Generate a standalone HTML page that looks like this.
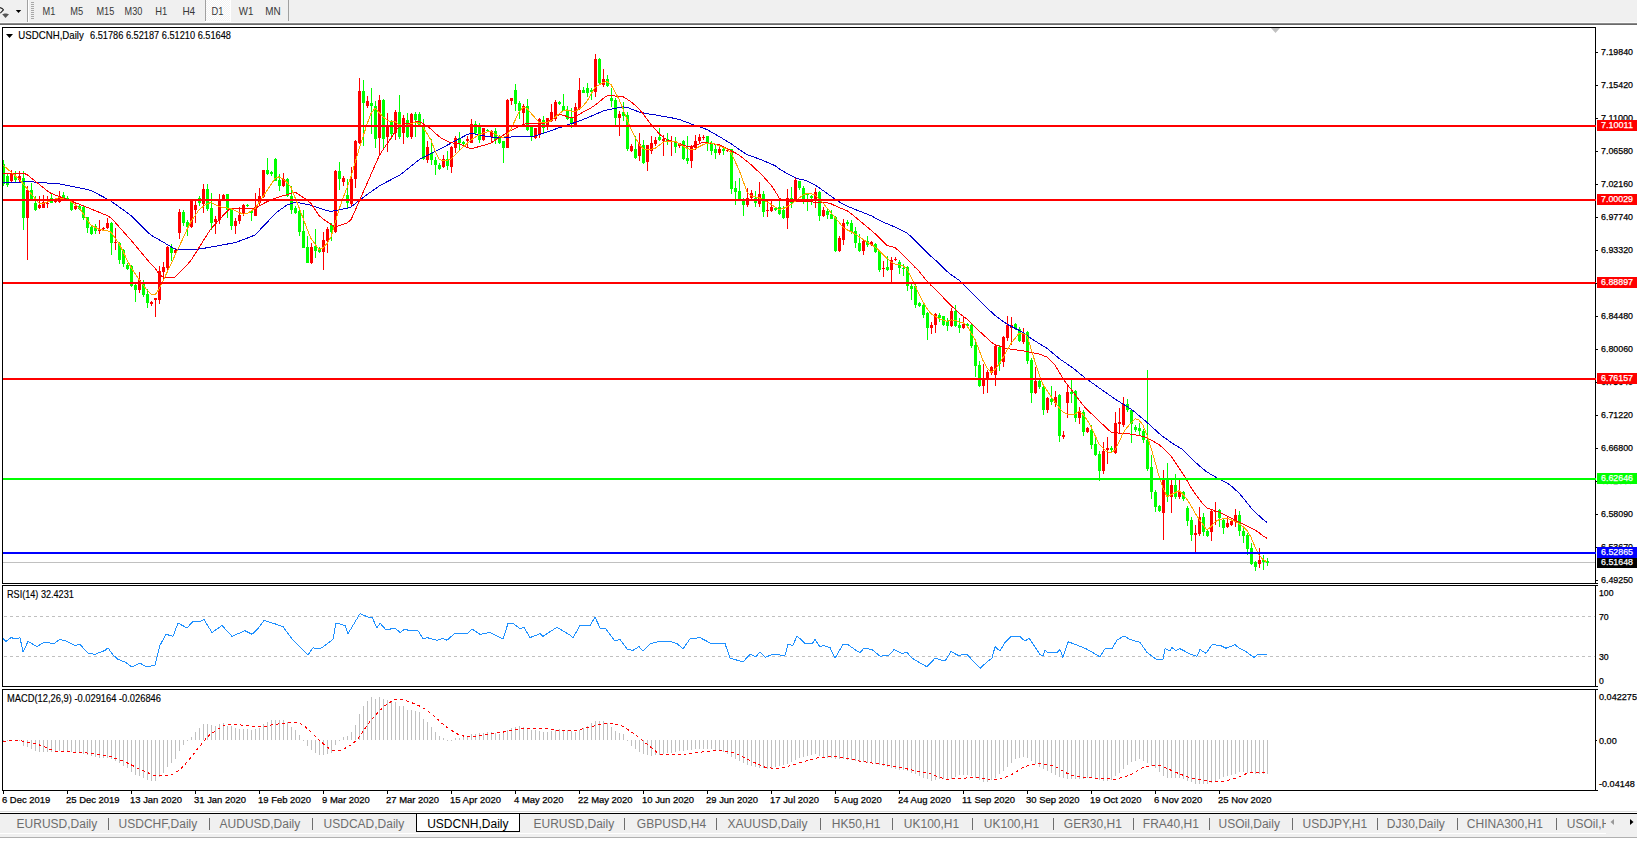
<!DOCTYPE html><html><head><meta charset="utf-8"><style>
html,body{margin:0;padding:0;width:1637px;height:842px;overflow:hidden;background:#fff;}
body{font-family:"Liberation Sans", sans-serif;position:relative;}
svg{position:absolute;left:0;top:0;}
</style></head><body>
<svg width="1637" height="842" viewBox="0 0 1637 842" shape-rendering="crispEdges">
<rect x="0" y="0" width="1637" height="23" fill="#f0f0f0"/>
<rect x="0" y="23" width="1637" height="1" fill="#8a8a8a"/>
<rect x="0" y="24" width="1637" height="1" fill="#6a6a6a"/>
<g shape-rendering="auto"><path d="M0,7.6 Q2.6,8.2 3.4,9.8 L0.3,13.2" stroke="#222" stroke-width="1.1" fill="none"/><path d="M2.2,14.3 L4.6,13.4 L6.3,13.4 L9,14.3 L5.5,18 Z" fill="#555"/><path d="M15.8,10 L21.2,10 L18.5,13 Z" fill="#000"/></g>
<rect x="27" y="0" width="1" height="23" fill="#a0a0a0"/>
<rect x="28" y="0" width="1" height="23" fill="#ffffff"/>
<rect x="31" y="2" width="3" height="1" fill="#a8a8a8"/>
<rect x="31" y="4" width="3" height="1" fill="#a8a8a8"/>
<rect x="31" y="6" width="3" height="1" fill="#a8a8a8"/>
<rect x="31" y="8" width="3" height="1" fill="#a8a8a8"/>
<rect x="31" y="10" width="3" height="1" fill="#a8a8a8"/>
<rect x="31" y="12" width="3" height="1" fill="#a8a8a8"/>
<rect x="31" y="14" width="3" height="1" fill="#a8a8a8"/>
<rect x="31" y="16" width="3" height="1" fill="#a8a8a8"/>
<rect x="31" y="18" width="3" height="1" fill="#a8a8a8"/>
<defs><pattern id="chk" x="0" y="0" width="2" height="2" patternUnits="userSpaceOnUse"><rect width="2" height="2" fill="#f2f2f2"/><rect width="1" height="1" fill="#ffffff"/><rect x="1" y="1" width="1" height="1" fill="#ffffff"/></pattern></defs>
<rect x="0" y="22" width="1637" height="1" fill="#fafafa"/>
<rect x="205" y="0" width="1" height="21" fill="#a0a0a0"/>
<rect x="206" y="0" width="24" height="21" fill="url(#chk)"/>
<rect x="230" y="0" width="1" height="22" fill="#ffffff"/>
<rect x="205" y="21" width="26" height="1" fill="#ffffff"/>
<rect x="288" y="0" width="1" height="21" fill="#a0a0a0"/>
<text x="42.6" y="15" font-family='"Liberation Sans", sans-serif' font-size="10.6" fill="#383838" textLength="12.8" lengthAdjust="spacingAndGlyphs">M1</text>
<text x="70.3" y="15" font-family='"Liberation Sans", sans-serif' font-size="10.6" fill="#383838" textLength="12.9" lengthAdjust="spacingAndGlyphs">M5</text>
<text x="96.5" y="15" font-family='"Liberation Sans", sans-serif' font-size="10.6" fill="#383838" textLength="17.8" lengthAdjust="spacingAndGlyphs">M15</text>
<text x="124.6" y="15" font-family='"Liberation Sans", sans-serif' font-size="10.6" fill="#383838" textLength="17.7" lengthAdjust="spacingAndGlyphs">M30</text>
<text x="155.3" y="15" font-family='"Liberation Sans", sans-serif' font-size="10.6" fill="#383838" textLength="12.0" lengthAdjust="spacingAndGlyphs">H1</text>
<text x="182.4" y="15" font-family='"Liberation Sans", sans-serif' font-size="10.6" fill="#383838" textLength="12.8" lengthAdjust="spacingAndGlyphs">H4</text>
<text x="211.5" y="15" font-family='"Liberation Sans", sans-serif' font-size="10.6" fill="#383838" textLength="11.9" lengthAdjust="spacingAndGlyphs">D1</text>
<text x="238.8" y="15" font-family='"Liberation Sans", sans-serif' font-size="10.6" fill="#383838" textLength="14.6" lengthAdjust="spacingAndGlyphs">W1</text>
<text x="265.3" y="15" font-family='"Liberation Sans", sans-serif' font-size="10.6" fill="#383838" textLength="15.4" lengthAdjust="spacingAndGlyphs">MN</text>
<rect x="2.5" y="27.5" width="1593" height="556" fill="none" stroke="#000" stroke-width="1"/>
<rect x="2.5" y="585.5" width="1593" height="101" fill="none" stroke="#000" stroke-width="1"/>
<rect x="2.5" y="689.5" width="1593" height="101" fill="none" stroke="#000" stroke-width="1"/>
<path d="M1271,28 L1280,28 L1275.5,33 Z" fill="#c0c0c0" shape-rendering="auto"/>
<defs><clipPath id="cm"><rect x="3" y="28" width="1592" height="555"/></clipPath>
<clipPath id="cr"><rect x="3" y="586" width="1592" height="100"/></clipPath>
<clipPath id="cd"><rect x="3" y="690" width="1592" height="100"/></clipPath></defs>
<g clip-path="url(#cm)">
<rect x="3" y="562" width="1592" height="1" fill="#c0c0c0"/>
<rect x="3" y="160" width="1" height="26" fill="#00ff00"/>
<rect x="2" y="164" width="3" height="20" fill="#00ff00"/>
<rect x="7" y="174" width="1" height="13" fill="#00ff00"/>
<rect x="6" y="176" width="3" height="9" fill="#00ff00"/>
<rect x="11" y="170" width="1" height="13" fill="#ff0000"/>
<rect x="10" y="174" width="3" height="7" fill="#ff0000"/>
<rect x="15" y="171" width="1" height="11" fill="#00ff00"/>
<rect x="14" y="176" width="3" height="4" fill="#00ff00"/>
<rect x="19" y="171" width="1" height="11" fill="#ff0000"/>
<rect x="18" y="176" width="3" height="4" fill="#ff0000"/>
<rect x="23" y="171" width="1" height="59" fill="#00ff00"/>
<rect x="22" y="178" width="3" height="40" fill="#00ff00"/>
<rect x="27" y="186" width="1" height="74" fill="#ff0000"/>
<rect x="26" y="190" width="3" height="28" fill="#ff0000"/>
<rect x="31" y="183" width="1" height="16" fill="#00ff00"/>
<rect x="30" y="190" width="3" height="9" fill="#00ff00"/>
<rect x="35" y="196" width="1" height="15" fill="#00ff00"/>
<rect x="34" y="203" width="3" height="7" fill="#00ff00"/>
<rect x="39" y="196" width="1" height="13" fill="#ff0000"/>
<rect x="38" y="205" width="3" height="3" fill="#ff0000"/>
<rect x="43" y="195" width="1" height="13" fill="#ff0000"/>
<rect x="42" y="202" width="3" height="6" fill="#ff0000"/>
<rect x="47" y="196" width="1" height="12" fill="#ff0000"/>
<rect x="46" y="203" width="3" height="1" fill="#ff0000"/>
<rect x="51" y="193" width="1" height="10" fill="#00ff00"/>
<rect x="50" y="198" width="3" height="5" fill="#00ff00"/>
<rect x="55" y="199" width="1" height="4" fill="#ff0000"/>
<rect x="54" y="201" width="3" height="1" fill="#ff0000"/>
<rect x="59" y="191" width="1" height="12" fill="#ff0000"/>
<rect x="58" y="196" width="3" height="6" fill="#ff0000"/>
<rect x="63" y="192" width="1" height="7" fill="#00ff00"/>
<rect x="62" y="195" width="3" height="3" fill="#00ff00"/>
<rect x="67" y="196" width="1" height="4" fill="#00ff00"/>
<rect x="66" y="198" width="3" height="1" fill="#00ff00"/>
<rect x="71" y="200" width="1" height="11" fill="#00ff00"/>
<rect x="70" y="201" width="3" height="9" fill="#00ff00"/>
<rect x="75" y="203" width="1" height="7" fill="#ff0000"/>
<rect x="74" y="206" width="3" height="3" fill="#ff0000"/>
<rect x="79" y="205" width="1" height="5" fill="#00ff00"/>
<rect x="78" y="206" width="3" height="3" fill="#00ff00"/>
<rect x="83" y="206" width="1" height="14" fill="#00ff00"/>
<rect x="82" y="207" width="3" height="11" fill="#00ff00"/>
<rect x="87" y="217" width="1" height="16" fill="#00ff00"/>
<rect x="86" y="217" width="3" height="11" fill="#00ff00"/>
<rect x="91" y="226" width="1" height="9" fill="#00ff00"/>
<rect x="90" y="227" width="3" height="7" fill="#00ff00"/>
<rect x="95" y="224" width="1" height="10" fill="#00ff00"/>
<rect x="94" y="226" width="3" height="5" fill="#00ff00"/>
<rect x="99" y="220" width="1" height="14" fill="#ff0000"/>
<rect x="98" y="229" width="3" height="2" fill="#ff0000"/>
<rect x="103" y="227" width="1" height="3" fill="#ff0000"/>
<rect x="102" y="228" width="3" height="1" fill="#ff0000"/>
<rect x="107" y="218" width="1" height="11" fill="#ff0000"/>
<rect x="106" y="223" width="3" height="5" fill="#ff0000"/>
<rect x="111" y="222" width="1" height="33" fill="#00ff00"/>
<rect x="110" y="223" width="3" height="20" fill="#00ff00"/>
<rect x="115" y="228" width="1" height="22" fill="#ff0000"/>
<rect x="114" y="242" width="3" height="1" fill="#ff0000"/>
<rect x="119" y="242" width="1" height="22" fill="#00ff00"/>
<rect x="118" y="243" width="3" height="17" fill="#00ff00"/>
<rect x="123" y="249" width="1" height="18" fill="#00ff00"/>
<rect x="122" y="250" width="3" height="14" fill="#00ff00"/>
<rect x="127" y="263" width="1" height="7" fill="#00ff00"/>
<rect x="126" y="265" width="3" height="4" fill="#00ff00"/>
<rect x="131" y="265" width="1" height="22" fill="#00ff00"/>
<rect x="130" y="266" width="3" height="20" fill="#00ff00"/>
<rect x="135" y="284" width="1" height="18" fill="#00ff00"/>
<rect x="134" y="285" width="3" height="5" fill="#00ff00"/>
<rect x="139" y="272" width="1" height="21" fill="#ff0000"/>
<rect x="138" y="280" width="3" height="10" fill="#ff0000"/>
<rect x="143" y="280" width="1" height="17" fill="#00ff00"/>
<rect x="142" y="284" width="3" height="11" fill="#00ff00"/>
<rect x="147" y="289" width="1" height="19" fill="#00ff00"/>
<rect x="146" y="294" width="3" height="9" fill="#00ff00"/>
<rect x="151" y="301" width="1" height="5" fill="#ff0000"/>
<rect x="150" y="302" width="3" height="2" fill="#ff0000"/>
<rect x="155" y="298" width="1" height="19" fill="#ff0000"/>
<rect x="154" y="298" width="3" height="2" fill="#ff0000"/>
<rect x="159" y="266" width="1" height="38" fill="#ff0000"/>
<rect x="158" y="271" width="3" height="29" fill="#ff0000"/>
<rect x="163" y="262" width="1" height="18" fill="#ff0000"/>
<rect x="162" y="267" width="3" height="5" fill="#ff0000"/>
<rect x="167" y="246" width="1" height="25" fill="#ff0000"/>
<rect x="166" y="247" width="3" height="21" fill="#ff0000"/>
<rect x="171" y="244" width="1" height="17" fill="#00ff00"/>
<rect x="170" y="247" width="3" height="6" fill="#00ff00"/>
<rect x="175" y="248" width="1" height="6" fill="#ff0000"/>
<rect x="174" y="250" width="3" height="3" fill="#ff0000"/>
<rect x="179" y="209" width="1" height="30" fill="#ff0000"/>
<rect x="178" y="212" width="3" height="21" fill="#ff0000"/>
<rect x="183" y="210" width="1" height="16" fill="#00ff00"/>
<rect x="182" y="212" width="3" height="11" fill="#00ff00"/>
<rect x="187" y="220" width="1" height="16" fill="#00ff00"/>
<rect x="186" y="222" width="3" height="5" fill="#00ff00"/>
<rect x="191" y="199" width="1" height="29" fill="#ff0000"/>
<rect x="190" y="200" width="3" height="27" fill="#ff0000"/>
<rect x="195" y="201" width="1" height="22" fill="#ff0000"/>
<rect x="194" y="205" width="3" height="5" fill="#ff0000"/>
<rect x="199" y="196" width="1" height="10" fill="#00ff00"/>
<rect x="198" y="198" width="3" height="5" fill="#00ff00"/>
<rect x="203" y="184" width="1" height="29" fill="#ff0000"/>
<rect x="202" y="189" width="3" height="15" fill="#ff0000"/>
<rect x="207" y="184" width="1" height="27" fill="#00ff00"/>
<rect x="206" y="189" width="3" height="20" fill="#00ff00"/>
<rect x="211" y="193" width="1" height="37" fill="#00ff00"/>
<rect x="210" y="208" width="3" height="15" fill="#00ff00"/>
<rect x="215" y="216" width="1" height="18" fill="#ff0000"/>
<rect x="214" y="219" width="3" height="3" fill="#ff0000"/>
<rect x="219" y="194" width="1" height="30" fill="#ff0000"/>
<rect x="218" y="199" width="3" height="21" fill="#ff0000"/>
<rect x="223" y="194" width="1" height="6" fill="#ff0000"/>
<rect x="222" y="195" width="3" height="4" fill="#ff0000"/>
<rect x="227" y="194" width="1" height="24" fill="#00ff00"/>
<rect x="226" y="194" width="3" height="16" fill="#00ff00"/>
<rect x="231" y="208" width="1" height="22" fill="#00ff00"/>
<rect x="230" y="209" width="3" height="17" fill="#00ff00"/>
<rect x="235" y="218" width="1" height="16" fill="#ff0000"/>
<rect x="234" y="221" width="3" height="5" fill="#ff0000"/>
<rect x="239" y="207" width="1" height="17" fill="#ff0000"/>
<rect x="238" y="215" width="3" height="6" fill="#ff0000"/>
<rect x="243" y="204" width="1" height="12" fill="#ff0000"/>
<rect x="242" y="205" width="3" height="9" fill="#ff0000"/>
<rect x="247" y="204" width="1" height="3" fill="#00ff00"/>
<rect x="246" y="205" width="3" height="1" fill="#00ff00"/>
<rect x="251" y="210" width="1" height="11" fill="#00ff00"/>
<rect x="250" y="211" width="3" height="2" fill="#00ff00"/>
<rect x="255" y="193" width="1" height="23" fill="#ff0000"/>
<rect x="254" y="207" width="3" height="9" fill="#ff0000"/>
<rect x="259" y="188" width="1" height="18" fill="#ff0000"/>
<rect x="258" y="196" width="3" height="7" fill="#ff0000"/>
<rect x="263" y="170" width="1" height="28" fill="#ff0000"/>
<rect x="262" y="170" width="3" height="27" fill="#ff0000"/>
<rect x="267" y="158" width="1" height="17" fill="#00ff00"/>
<rect x="266" y="170" width="3" height="4" fill="#00ff00"/>
<rect x="271" y="171" width="1" height="5" fill="#00ff00"/>
<rect x="270" y="172" width="3" height="2" fill="#00ff00"/>
<rect x="275" y="158" width="1" height="23" fill="#00ff00"/>
<rect x="274" y="159" width="3" height="22" fill="#00ff00"/>
<rect x="279" y="174" width="1" height="17" fill="#00ff00"/>
<rect x="278" y="180" width="3" height="6" fill="#00ff00"/>
<rect x="283" y="173" width="1" height="14" fill="#ff0000"/>
<rect x="282" y="179" width="3" height="7" fill="#ff0000"/>
<rect x="287" y="178" width="1" height="19" fill="#00ff00"/>
<rect x="286" y="179" width="3" height="17" fill="#00ff00"/>
<rect x="291" y="186" width="1" height="28" fill="#00ff00"/>
<rect x="290" y="196" width="3" height="14" fill="#00ff00"/>
<rect x="295" y="206" width="1" height="8" fill="#00ff00"/>
<rect x="294" y="208" width="3" height="5" fill="#00ff00"/>
<rect x="299" y="208" width="1" height="28" fill="#00ff00"/>
<rect x="298" y="211" width="3" height="21" fill="#00ff00"/>
<rect x="303" y="210" width="1" height="38" fill="#00ff00"/>
<rect x="302" y="231" width="3" height="17" fill="#00ff00"/>
<rect x="307" y="236" width="1" height="27" fill="#00ff00"/>
<rect x="306" y="247" width="3" height="16" fill="#00ff00"/>
<rect x="311" y="243" width="1" height="21" fill="#ff0000"/>
<rect x="310" y="247" width="3" height="16" fill="#ff0000"/>
<rect x="315" y="229" width="1" height="29" fill="#00ff00"/>
<rect x="314" y="246" width="3" height="5" fill="#00ff00"/>
<rect x="319" y="247" width="1" height="6" fill="#00ff00"/>
<rect x="318" y="249" width="3" height="3" fill="#00ff00"/>
<rect x="323" y="232" width="1" height="38" fill="#ff0000"/>
<rect x="322" y="240" width="3" height="12" fill="#ff0000"/>
<rect x="327" y="227" width="1" height="26" fill="#ff0000"/>
<rect x="326" y="229" width="3" height="12" fill="#ff0000"/>
<rect x="331" y="223" width="1" height="18" fill="#00ff00"/>
<rect x="330" y="225" width="3" height="7" fill="#00ff00"/>
<rect x="335" y="170" width="1" height="63" fill="#ff0000"/>
<rect x="334" y="171" width="3" height="61" fill="#ff0000"/>
<rect x="339" y="162" width="1" height="28" fill="#00ff00"/>
<rect x="338" y="171" width="3" height="8" fill="#00ff00"/>
<rect x="343" y="176" width="1" height="10" fill="#ff0000"/>
<rect x="342" y="178" width="3" height="4" fill="#ff0000"/>
<rect x="347" y="179" width="1" height="29" fill="#00ff00"/>
<rect x="346" y="195" width="3" height="8" fill="#00ff00"/>
<rect x="351" y="167" width="1" height="40" fill="#ff0000"/>
<rect x="350" y="179" width="3" height="25" fill="#ff0000"/>
<rect x="355" y="140" width="1" height="48" fill="#ff0000"/>
<rect x="354" y="141" width="3" height="38" fill="#ff0000"/>
<rect x="359" y="78" width="1" height="66" fill="#ff0000"/>
<rect x="358" y="91" width="3" height="52" fill="#ff0000"/>
<rect x="363" y="80" width="1" height="66" fill="#00ff00"/>
<rect x="362" y="91" width="3" height="12" fill="#00ff00"/>
<rect x="367" y="96" width="1" height="12" fill="#ff0000"/>
<rect x="366" y="101" width="3" height="5" fill="#ff0000"/>
<rect x="371" y="88" width="1" height="46" fill="#00ff00"/>
<rect x="370" y="103" width="3" height="3" fill="#00ff00"/>
<rect x="375" y="101" width="1" height="47" fill="#00ff00"/>
<rect x="374" y="106" width="3" height="33" fill="#00ff00"/>
<rect x="379" y="95" width="1" height="61" fill="#ff0000"/>
<rect x="378" y="100" width="3" height="38" fill="#ff0000"/>
<rect x="383" y="99" width="1" height="49" fill="#00ff00"/>
<rect x="382" y="100" width="3" height="39" fill="#00ff00"/>
<rect x="387" y="113" width="1" height="39" fill="#ff0000"/>
<rect x="386" y="125" width="3" height="12" fill="#ff0000"/>
<rect x="391" y="120" width="1" height="19" fill="#00ff00"/>
<rect x="390" y="121" width="3" height="13" fill="#00ff00"/>
<rect x="395" y="110" width="1" height="30" fill="#ff0000"/>
<rect x="394" y="112" width="3" height="21" fill="#ff0000"/>
<rect x="399" y="95" width="1" height="44" fill="#00ff00"/>
<rect x="398" y="112" width="3" height="25" fill="#00ff00"/>
<rect x="403" y="115" width="1" height="29" fill="#ff0000"/>
<rect x="402" y="118" width="3" height="15" fill="#ff0000"/>
<rect x="407" y="113" width="1" height="25" fill="#00ff00"/>
<rect x="406" y="120" width="3" height="17" fill="#00ff00"/>
<rect x="411" y="113" width="1" height="26" fill="#ff0000"/>
<rect x="410" y="114" width="3" height="23" fill="#ff0000"/>
<rect x="415" y="112" width="1" height="25" fill="#00ff00"/>
<rect x="414" y="114" width="3" height="6" fill="#00ff00"/>
<rect x="419" y="112" width="1" height="15" fill="#00ff00"/>
<rect x="418" y="114" width="3" height="11" fill="#00ff00"/>
<rect x="423" y="119" width="1" height="41" fill="#00ff00"/>
<rect x="422" y="125" width="3" height="34" fill="#00ff00"/>
<rect x="427" y="141" width="1" height="22" fill="#ff0000"/>
<rect x="426" y="147" width="3" height="13" fill="#ff0000"/>
<rect x="431" y="139" width="1" height="26" fill="#00ff00"/>
<rect x="430" y="153" width="3" height="7" fill="#00ff00"/>
<rect x="435" y="157" width="1" height="18" fill="#00ff00"/>
<rect x="434" y="160" width="3" height="5" fill="#00ff00"/>
<rect x="439" y="163" width="1" height="7" fill="#00ff00"/>
<rect x="438" y="165" width="3" height="4" fill="#00ff00"/>
<rect x="443" y="155" width="1" height="13" fill="#ff0000"/>
<rect x="442" y="159" width="3" height="8" fill="#ff0000"/>
<rect x="447" y="151" width="1" height="19" fill="#00ff00"/>
<rect x="446" y="159" width="3" height="7" fill="#00ff00"/>
<rect x="451" y="146" width="1" height="27" fill="#ff0000"/>
<rect x="450" y="147" width="3" height="20" fill="#ff0000"/>
<rect x="455" y="136" width="1" height="17" fill="#ff0000"/>
<rect x="454" y="138" width="3" height="10" fill="#ff0000"/>
<rect x="459" y="132" width="1" height="19" fill="#00ff00"/>
<rect x="458" y="138" width="3" height="5" fill="#00ff00"/>
<rect x="463" y="141" width="1" height="4" fill="#00ff00"/>
<rect x="462" y="142" width="3" height="2" fill="#00ff00"/>
<rect x="467" y="136" width="1" height="11" fill="#ff0000"/>
<rect x="466" y="139" width="3" height="2" fill="#ff0000"/>
<rect x="471" y="119" width="1" height="24" fill="#ff0000"/>
<rect x="470" y="124" width="3" height="19" fill="#ff0000"/>
<rect x="475" y="121" width="1" height="13" fill="#00ff00"/>
<rect x="474" y="124" width="3" height="9" fill="#00ff00"/>
<rect x="479" y="123" width="1" height="20" fill="#00ff00"/>
<rect x="478" y="127" width="3" height="13" fill="#00ff00"/>
<rect x="483" y="128" width="1" height="13" fill="#ff0000"/>
<rect x="482" y="128" width="3" height="12" fill="#ff0000"/>
<rect x="487" y="129" width="1" height="3" fill="#00ff00"/>
<rect x="486" y="130" width="3" height="1" fill="#00ff00"/>
<rect x="491" y="130" width="1" height="13" fill="#ff0000"/>
<rect x="490" y="131" width="3" height="6" fill="#ff0000"/>
<rect x="495" y="128" width="1" height="16" fill="#00ff00"/>
<rect x="494" y="131" width="3" height="9" fill="#00ff00"/>
<rect x="499" y="135" width="1" height="9" fill="#00ff00"/>
<rect x="498" y="138" width="3" height="5" fill="#00ff00"/>
<rect x="503" y="141" width="1" height="22" fill="#00ff00"/>
<rect x="502" y="141" width="3" height="7" fill="#00ff00"/>
<rect x="507" y="99" width="1" height="49" fill="#ff0000"/>
<rect x="506" y="100" width="3" height="48" fill="#ff0000"/>
<rect x="511" y="98" width="1" height="7" fill="#ff0000"/>
<rect x="510" y="98" width="3" height="3" fill="#ff0000"/>
<rect x="515" y="84" width="1" height="27" fill="#00ff00"/>
<rect x="514" y="90" width="3" height="14" fill="#00ff00"/>
<rect x="519" y="101" width="1" height="18" fill="#00ff00"/>
<rect x="518" y="103" width="3" height="8" fill="#00ff00"/>
<rect x="523" y="104" width="1" height="20" fill="#ff0000"/>
<rect x="522" y="106" width="3" height="7" fill="#ff0000"/>
<rect x="527" y="99" width="1" height="32" fill="#00ff00"/>
<rect x="526" y="106" width="3" height="24" fill="#00ff00"/>
<rect x="531" y="126" width="1" height="15" fill="#00ff00"/>
<rect x="530" y="127" width="3" height="10" fill="#00ff00"/>
<rect x="535" y="128" width="1" height="11" fill="#ff0000"/>
<rect x="534" y="128" width="3" height="10" fill="#ff0000"/>
<rect x="539" y="118" width="1" height="20" fill="#ff0000"/>
<rect x="538" y="119" width="3" height="15" fill="#ff0000"/>
<rect x="543" y="116" width="1" height="18" fill="#00ff00"/>
<rect x="542" y="120" width="3" height="8" fill="#00ff00"/>
<rect x="547" y="118" width="1" height="12" fill="#ff0000"/>
<rect x="546" y="118" width="3" height="8" fill="#ff0000"/>
<rect x="551" y="104" width="1" height="18" fill="#ff0000"/>
<rect x="550" y="112" width="3" height="9" fill="#ff0000"/>
<rect x="555" y="100" width="1" height="21" fill="#ff0000"/>
<rect x="554" y="102" width="3" height="17" fill="#ff0000"/>
<rect x="559" y="101" width="1" height="4" fill="#00ff00"/>
<rect x="558" y="102" width="3" height="2" fill="#00ff00"/>
<rect x="563" y="94" width="1" height="17" fill="#00ff00"/>
<rect x="562" y="106" width="3" height="5" fill="#00ff00"/>
<rect x="567" y="106" width="1" height="14" fill="#00ff00"/>
<rect x="566" y="111" width="3" height="8" fill="#00ff00"/>
<rect x="571" y="108" width="1" height="20" fill="#00ff00"/>
<rect x="570" y="118" width="3" height="6" fill="#00ff00"/>
<rect x="575" y="103" width="1" height="24" fill="#ff0000"/>
<rect x="574" y="107" width="3" height="20" fill="#ff0000"/>
<rect x="579" y="78" width="1" height="32" fill="#ff0000"/>
<rect x="578" y="90" width="3" height="19" fill="#ff0000"/>
<rect x="583" y="87" width="1" height="6" fill="#00ff00"/>
<rect x="582" y="90" width="3" height="3" fill="#00ff00"/>
<rect x="587" y="83" width="1" height="14" fill="#00ff00"/>
<rect x="586" y="88" width="3" height="5" fill="#00ff00"/>
<rect x="591" y="88" width="1" height="12" fill="#00ff00"/>
<rect x="590" y="90" width="3" height="2" fill="#00ff00"/>
<rect x="595" y="54" width="1" height="43" fill="#ff0000"/>
<rect x="594" y="59" width="3" height="33" fill="#ff0000"/>
<rect x="599" y="58" width="1" height="26" fill="#00ff00"/>
<rect x="598" y="59" width="3" height="24" fill="#00ff00"/>
<rect x="603" y="69" width="1" height="18" fill="#ff0000"/>
<rect x="602" y="79" width="3" height="6" fill="#ff0000"/>
<rect x="607" y="75" width="1" height="12" fill="#00ff00"/>
<rect x="606" y="79" width="3" height="7" fill="#00ff00"/>
<rect x="611" y="88" width="1" height="19" fill="#00ff00"/>
<rect x="610" y="98" width="3" height="3" fill="#00ff00"/>
<rect x="615" y="98" width="1" height="27" fill="#00ff00"/>
<rect x="614" y="100" width="3" height="18" fill="#00ff00"/>
<rect x="619" y="111" width="1" height="25" fill="#ff0000"/>
<rect x="618" y="114" width="3" height="4" fill="#ff0000"/>
<rect x="623" y="102" width="1" height="19" fill="#00ff00"/>
<rect x="622" y="112" width="3" height="4" fill="#00ff00"/>
<rect x="627" y="112" width="1" height="39" fill="#00ff00"/>
<rect x="626" y="115" width="3" height="34" fill="#00ff00"/>
<rect x="631" y="144" width="1" height="8" fill="#ff0000"/>
<rect x="630" y="146" width="3" height="5" fill="#ff0000"/>
<rect x="635" y="136" width="1" height="23" fill="#00ff00"/>
<rect x="634" y="149" width="3" height="9" fill="#00ff00"/>
<rect x="639" y="133" width="1" height="28" fill="#ff0000"/>
<rect x="638" y="144" width="3" height="12" fill="#ff0000"/>
<rect x="643" y="140" width="1" height="24" fill="#00ff00"/>
<rect x="642" y="145" width="3" height="18" fill="#00ff00"/>
<rect x="647" y="145" width="1" height="26" fill="#ff0000"/>
<rect x="646" y="145" width="3" height="17" fill="#ff0000"/>
<rect x="651" y="136" width="1" height="18" fill="#ff0000"/>
<rect x="650" y="143" width="3" height="8" fill="#ff0000"/>
<rect x="655" y="137" width="1" height="9" fill="#ff0000"/>
<rect x="654" y="140" width="3" height="4" fill="#ff0000"/>
<rect x="659" y="128" width="1" height="13" fill="#00ff00"/>
<rect x="658" y="137" width="3" height="3" fill="#00ff00"/>
<rect x="663" y="135" width="1" height="21" fill="#ff0000"/>
<rect x="662" y="139" width="3" height="2" fill="#ff0000"/>
<rect x="667" y="133" width="1" height="12" fill="#00ff00"/>
<rect x="666" y="139" width="3" height="3" fill="#00ff00"/>
<rect x="671" y="136" width="1" height="20" fill="#ff0000"/>
<rect x="670" y="141" width="3" height="1" fill="#ff0000"/>
<rect x="675" y="137" width="1" height="16" fill="#00ff00"/>
<rect x="674" y="142" width="3" height="5" fill="#00ff00"/>
<rect x="679" y="144" width="1" height="4" fill="#ff0000"/>
<rect x="678" y="144" width="3" height="2" fill="#ff0000"/>
<rect x="683" y="140" width="1" height="20" fill="#00ff00"/>
<rect x="682" y="141" width="3" height="18" fill="#00ff00"/>
<rect x="687" y="136" width="1" height="28" fill="#00ff00"/>
<rect x="686" y="158" width="3" height="3" fill="#00ff00"/>
<rect x="691" y="145" width="1" height="23" fill="#ff0000"/>
<rect x="690" y="146" width="3" height="15" fill="#ff0000"/>
<rect x="695" y="135" width="1" height="15" fill="#ff0000"/>
<rect x="694" y="141" width="3" height="7" fill="#ff0000"/>
<rect x="699" y="134" width="1" height="10" fill="#ff0000"/>
<rect x="698" y="137" width="3" height="4" fill="#ff0000"/>
<rect x="703" y="135" width="1" height="5" fill="#ff0000"/>
<rect x="702" y="137" width="3" height="1" fill="#ff0000"/>
<rect x="707" y="136" width="1" height="15" fill="#00ff00"/>
<rect x="706" y="136" width="3" height="8" fill="#00ff00"/>
<rect x="711" y="141" width="1" height="14" fill="#00ff00"/>
<rect x="710" y="144" width="3" height="7" fill="#00ff00"/>
<rect x="715" y="144" width="1" height="15" fill="#00ff00"/>
<rect x="714" y="149" width="3" height="4" fill="#00ff00"/>
<rect x="719" y="146" width="1" height="9" fill="#ff0000"/>
<rect x="718" y="149" width="3" height="4" fill="#ff0000"/>
<rect x="723" y="148" width="1" height="7" fill="#00ff00"/>
<rect x="722" y="149" width="3" height="2" fill="#00ff00"/>
<rect x="727" y="149" width="1" height="3" fill="#ff0000"/>
<rect x="726" y="150" width="3" height="1" fill="#ff0000"/>
<rect x="731" y="149" width="1" height="45" fill="#00ff00"/>
<rect x="730" y="149" width="3" height="40" fill="#00ff00"/>
<rect x="735" y="181" width="1" height="24" fill="#00ff00"/>
<rect x="734" y="188" width="3" height="4" fill="#00ff00"/>
<rect x="739" y="178" width="1" height="22" fill="#00ff00"/>
<rect x="738" y="191" width="3" height="8" fill="#00ff00"/>
<rect x="743" y="198" width="1" height="18" fill="#00ff00"/>
<rect x="742" y="201" width="3" height="4" fill="#00ff00"/>
<rect x="747" y="188" width="1" height="19" fill="#ff0000"/>
<rect x="746" y="198" width="3" height="7" fill="#ff0000"/>
<rect x="751" y="190" width="1" height="9" fill="#ff0000"/>
<rect x="750" y="193" width="3" height="5" fill="#ff0000"/>
<rect x="755" y="191" width="1" height="16" fill="#00ff00"/>
<rect x="754" y="198" width="3" height="5" fill="#00ff00"/>
<rect x="759" y="182" width="1" height="25" fill="#ff0000"/>
<rect x="758" y="194" width="3" height="10" fill="#ff0000"/>
<rect x="763" y="191" width="1" height="26" fill="#00ff00"/>
<rect x="762" y="194" width="3" height="18" fill="#00ff00"/>
<rect x="767" y="201" width="1" height="16" fill="#ff0000"/>
<rect x="766" y="210" width="3" height="1" fill="#ff0000"/>
<rect x="771" y="201" width="1" height="11" fill="#ff0000"/>
<rect x="770" y="207" width="3" height="4" fill="#ff0000"/>
<rect x="775" y="207" width="1" height="4" fill="#00ff00"/>
<rect x="774" y="208" width="3" height="2" fill="#00ff00"/>
<rect x="779" y="201" width="1" height="14" fill="#00ff00"/>
<rect x="778" y="207" width="3" height="7" fill="#00ff00"/>
<rect x="783" y="206" width="1" height="13" fill="#00ff00"/>
<rect x="782" y="210" width="3" height="8" fill="#00ff00"/>
<rect x="787" y="189" width="1" height="40" fill="#ff0000"/>
<rect x="786" y="198" width="3" height="20" fill="#ff0000"/>
<rect x="791" y="187" width="1" height="21" fill="#00ff00"/>
<rect x="790" y="198" width="3" height="5" fill="#00ff00"/>
<rect x="795" y="178" width="1" height="23" fill="#ff0000"/>
<rect x="794" y="180" width="3" height="21" fill="#ff0000"/>
<rect x="799" y="181" width="1" height="9" fill="#00ff00"/>
<rect x="798" y="181" width="3" height="7" fill="#00ff00"/>
<rect x="803" y="186" width="1" height="18" fill="#00ff00"/>
<rect x="802" y="188" width="3" height="11" fill="#00ff00"/>
<rect x="807" y="193" width="1" height="18" fill="#00ff00"/>
<rect x="806" y="193" width="3" height="2" fill="#00ff00"/>
<rect x="811" y="195" width="1" height="10" fill="#00ff00"/>
<rect x="810" y="196" width="3" height="2" fill="#00ff00"/>
<rect x="815" y="188" width="1" height="20" fill="#ff0000"/>
<rect x="814" y="192" width="3" height="8" fill="#ff0000"/>
<rect x="819" y="191" width="1" height="30" fill="#00ff00"/>
<rect x="818" y="192" width="3" height="24" fill="#00ff00"/>
<rect x="823" y="207" width="1" height="10" fill="#ff0000"/>
<rect x="822" y="210" width="3" height="6" fill="#ff0000"/>
<rect x="827" y="208" width="1" height="11" fill="#00ff00"/>
<rect x="826" y="211" width="3" height="4" fill="#00ff00"/>
<rect x="831" y="210" width="1" height="9" fill="#00ff00"/>
<rect x="830" y="214" width="3" height="5" fill="#00ff00"/>
<rect x="835" y="216" width="1" height="36" fill="#00ff00"/>
<rect x="834" y="217" width="3" height="34" fill="#00ff00"/>
<rect x="839" y="236" width="1" height="16" fill="#ff0000"/>
<rect x="838" y="238" width="3" height="13" fill="#ff0000"/>
<rect x="843" y="219" width="1" height="26" fill="#ff0000"/>
<rect x="842" y="223" width="3" height="17" fill="#ff0000"/>
<rect x="847" y="220" width="1" height="6" fill="#00ff00"/>
<rect x="846" y="222" width="3" height="2" fill="#00ff00"/>
<rect x="851" y="220" width="1" height="14" fill="#00ff00"/>
<rect x="850" y="223" width="3" height="9" fill="#00ff00"/>
<rect x="855" y="227" width="1" height="21" fill="#00ff00"/>
<rect x="854" y="231" width="3" height="12" fill="#00ff00"/>
<rect x="859" y="234" width="1" height="18" fill="#00ff00"/>
<rect x="858" y="243" width="3" height="8" fill="#00ff00"/>
<rect x="863" y="240" width="1" height="15" fill="#ff0000"/>
<rect x="862" y="241" width="3" height="10" fill="#ff0000"/>
<rect x="867" y="236" width="1" height="11" fill="#00ff00"/>
<rect x="866" y="241" width="3" height="4" fill="#00ff00"/>
<rect x="871" y="241" width="1" height="5" fill="#ff0000"/>
<rect x="870" y="242" width="3" height="3" fill="#ff0000"/>
<rect x="875" y="243" width="1" height="10" fill="#00ff00"/>
<rect x="874" y="244" width="3" height="8" fill="#00ff00"/>
<rect x="879" y="251" width="1" height="21" fill="#00ff00"/>
<rect x="878" y="251" width="3" height="19" fill="#00ff00"/>
<rect x="883" y="261" width="1" height="16" fill="#ff0000"/>
<rect x="882" y="268" width="3" height="1" fill="#ff0000"/>
<rect x="887" y="256" width="1" height="15" fill="#00ff00"/>
<rect x="886" y="267" width="3" height="3" fill="#00ff00"/>
<rect x="891" y="257" width="1" height="25" fill="#ff0000"/>
<rect x="890" y="260" width="3" height="10" fill="#ff0000"/>
<rect x="895" y="257" width="1" height="4" fill="#ff0000"/>
<rect x="894" y="259" width="3" height="1" fill="#ff0000"/>
<rect x="899" y="260" width="1" height="14" fill="#00ff00"/>
<rect x="898" y="262" width="3" height="6" fill="#00ff00"/>
<rect x="903" y="264" width="1" height="12" fill="#00ff00"/>
<rect x="902" y="268" width="3" height="1" fill="#00ff00"/>
<rect x="907" y="266" width="1" height="25" fill="#00ff00"/>
<rect x="906" y="267" width="3" height="19" fill="#00ff00"/>
<rect x="911" y="284" width="1" height="16" fill="#00ff00"/>
<rect x="910" y="286" width="3" height="3" fill="#00ff00"/>
<rect x="915" y="283" width="1" height="25" fill="#00ff00"/>
<rect x="914" y="286" width="3" height="19" fill="#00ff00"/>
<rect x="919" y="302" width="1" height="5" fill="#00ff00"/>
<rect x="918" y="303" width="3" height="3" fill="#00ff00"/>
<rect x="923" y="304" width="1" height="14" fill="#00ff00"/>
<rect x="922" y="305" width="3" height="10" fill="#00ff00"/>
<rect x="927" y="312" width="1" height="28" fill="#00ff00"/>
<rect x="926" y="313" width="3" height="15" fill="#00ff00"/>
<rect x="931" y="322" width="1" height="12" fill="#ff0000"/>
<rect x="930" y="325" width="3" height="3" fill="#ff0000"/>
<rect x="935" y="313" width="1" height="20" fill="#ff0000"/>
<rect x="934" y="314" width="3" height="11" fill="#ff0000"/>
<rect x="939" y="313" width="1" height="9" fill="#00ff00"/>
<rect x="938" y="315" width="3" height="3" fill="#00ff00"/>
<rect x="943" y="316" width="1" height="10" fill="#00ff00"/>
<rect x="942" y="316" width="3" height="9" fill="#00ff00"/>
<rect x="947" y="318" width="1" height="13" fill="#00ff00"/>
<rect x="946" y="321" width="3" height="5" fill="#00ff00"/>
<rect x="951" y="308" width="1" height="19" fill="#ff0000"/>
<rect x="950" y="311" width="3" height="15" fill="#ff0000"/>
<rect x="955" y="305" width="1" height="22" fill="#00ff00"/>
<rect x="954" y="311" width="3" height="15" fill="#00ff00"/>
<rect x="959" y="318" width="1" height="15" fill="#00ff00"/>
<rect x="958" y="325" width="3" height="3" fill="#00ff00"/>
<rect x="963" y="316" width="1" height="13" fill="#ff0000"/>
<rect x="962" y="324" width="3" height="4" fill="#ff0000"/>
<rect x="967" y="323" width="1" height="4" fill="#00ff00"/>
<rect x="966" y="324" width="3" height="2" fill="#00ff00"/>
<rect x="971" y="324" width="1" height="24" fill="#00ff00"/>
<rect x="970" y="325" width="3" height="21" fill="#00ff00"/>
<rect x="975" y="341" width="1" height="36" fill="#00ff00"/>
<rect x="974" y="345" width="3" height="21" fill="#00ff00"/>
<rect x="979" y="361" width="1" height="26" fill="#00ff00"/>
<rect x="978" y="365" width="3" height="21" fill="#00ff00"/>
<rect x="983" y="364" width="1" height="30" fill="#ff0000"/>
<rect x="982" y="379" width="3" height="7" fill="#ff0000"/>
<rect x="987" y="370" width="1" height="23" fill="#ff0000"/>
<rect x="986" y="372" width="3" height="6" fill="#ff0000"/>
<rect x="991" y="366" width="1" height="9" fill="#ff0000"/>
<rect x="990" y="367" width="3" height="6" fill="#ff0000"/>
<rect x="995" y="345" width="1" height="41" fill="#ff0000"/>
<rect x="994" y="346" width="3" height="29" fill="#ff0000"/>
<rect x="999" y="345" width="1" height="26" fill="#00ff00"/>
<rect x="998" y="347" width="3" height="17" fill="#00ff00"/>
<rect x="1003" y="336" width="1" height="31" fill="#ff0000"/>
<rect x="1002" y="337" width="3" height="25" fill="#ff0000"/>
<rect x="1007" y="316" width="1" height="25" fill="#ff0000"/>
<rect x="1006" y="325" width="3" height="13" fill="#ff0000"/>
<rect x="1011" y="317" width="1" height="28" fill="#ff0000"/>
<rect x="1010" y="325" width="3" height="3" fill="#ff0000"/>
<rect x="1015" y="323" width="1" height="7" fill="#00ff00"/>
<rect x="1014" y="324" width="3" height="5" fill="#00ff00"/>
<rect x="1019" y="327" width="1" height="15" fill="#00ff00"/>
<rect x="1018" y="329" width="3" height="12" fill="#00ff00"/>
<rect x="1023" y="328" width="1" height="16" fill="#ff0000"/>
<rect x="1022" y="333" width="3" height="9" fill="#ff0000"/>
<rect x="1027" y="331" width="1" height="33" fill="#00ff00"/>
<rect x="1026" y="332" width="3" height="29" fill="#00ff00"/>
<rect x="1031" y="358" width="1" height="45" fill="#00ff00"/>
<rect x="1030" y="360" width="3" height="33" fill="#00ff00"/>
<rect x="1035" y="367" width="1" height="27" fill="#ff0000"/>
<rect x="1034" y="381" width="3" height="12" fill="#ff0000"/>
<rect x="1039" y="380" width="1" height="9" fill="#00ff00"/>
<rect x="1038" y="381" width="3" height="6" fill="#00ff00"/>
<rect x="1043" y="384" width="1" height="31" fill="#00ff00"/>
<rect x="1042" y="387" width="3" height="23" fill="#00ff00"/>
<rect x="1047" y="397" width="1" height="16" fill="#ff0000"/>
<rect x="1046" y="398" width="3" height="12" fill="#ff0000"/>
<rect x="1051" y="386" width="1" height="19" fill="#00ff00"/>
<rect x="1050" y="399" width="3" height="3" fill="#00ff00"/>
<rect x="1055" y="391" width="1" height="16" fill="#ff0000"/>
<rect x="1054" y="397" width="3" height="6" fill="#ff0000"/>
<rect x="1059" y="394" width="1" height="48" fill="#00ff00"/>
<rect x="1058" y="395" width="3" height="41" fill="#00ff00"/>
<rect x="1063" y="431" width="1" height="8" fill="#ff0000"/>
<rect x="1062" y="435" width="3" height="2" fill="#ff0000"/>
<rect x="1067" y="384" width="1" height="34" fill="#ff0000"/>
<rect x="1066" y="392" width="3" height="11" fill="#ff0000"/>
<rect x="1071" y="378" width="1" height="25" fill="#00ff00"/>
<rect x="1070" y="392" width="3" height="2" fill="#00ff00"/>
<rect x="1075" y="390" width="1" height="32" fill="#00ff00"/>
<rect x="1074" y="391" width="3" height="27" fill="#00ff00"/>
<rect x="1079" y="407" width="1" height="17" fill="#ff0000"/>
<rect x="1078" y="411" width="3" height="7" fill="#ff0000"/>
<rect x="1083" y="410" width="1" height="26" fill="#00ff00"/>
<rect x="1082" y="412" width="3" height="20" fill="#00ff00"/>
<rect x="1087" y="427" width="1" height="6" fill="#ff0000"/>
<rect x="1086" y="428" width="3" height="4" fill="#ff0000"/>
<rect x="1091" y="425" width="1" height="24" fill="#00ff00"/>
<rect x="1090" y="430" width="3" height="15" fill="#00ff00"/>
<rect x="1095" y="437" width="1" height="19" fill="#00ff00"/>
<rect x="1094" y="444" width="3" height="11" fill="#00ff00"/>
<rect x="1099" y="451" width="1" height="30" fill="#00ff00"/>
<rect x="1098" y="454" width="3" height="17" fill="#00ff00"/>
<rect x="1103" y="442" width="1" height="32" fill="#ff0000"/>
<rect x="1102" y="451" width="3" height="20" fill="#ff0000"/>
<rect x="1107" y="437" width="1" height="27" fill="#ff0000"/>
<rect x="1106" y="448" width="3" height="2" fill="#ff0000"/>
<rect x="1111" y="446" width="1" height="6" fill="#00ff00"/>
<rect x="1110" y="448" width="3" height="2" fill="#00ff00"/>
<rect x="1115" y="412" width="1" height="42" fill="#ff0000"/>
<rect x="1114" y="423" width="3" height="30" fill="#ff0000"/>
<rect x="1119" y="408" width="1" height="25" fill="#ff0000"/>
<rect x="1118" y="422" width="3" height="2" fill="#ff0000"/>
<rect x="1123" y="397" width="1" height="30" fill="#ff0000"/>
<rect x="1122" y="404" width="3" height="21" fill="#ff0000"/>
<rect x="1127" y="399" width="1" height="13" fill="#00ff00"/>
<rect x="1126" y="404" width="3" height="6" fill="#00ff00"/>
<rect x="1131" y="409" width="1" height="34" fill="#00ff00"/>
<rect x="1130" y="410" width="3" height="14" fill="#00ff00"/>
<rect x="1135" y="425" width="1" height="7" fill="#00ff00"/>
<rect x="1134" y="427" width="3" height="3" fill="#00ff00"/>
<rect x="1139" y="423" width="1" height="13" fill="#00ff00"/>
<rect x="1138" y="428" width="3" height="3" fill="#00ff00"/>
<rect x="1143" y="429" width="1" height="14" fill="#00ff00"/>
<rect x="1142" y="431" width="3" height="9" fill="#00ff00"/>
<rect x="1147" y="370" width="1" height="101" fill="#00ff00"/>
<rect x="1146" y="440" width="3" height="29" fill="#00ff00"/>
<rect x="1151" y="455" width="1" height="44" fill="#00ff00"/>
<rect x="1150" y="467" width="3" height="25" fill="#00ff00"/>
<rect x="1155" y="490" width="1" height="22" fill="#00ff00"/>
<rect x="1154" y="492" width="3" height="15" fill="#00ff00"/>
<rect x="1159" y="505" width="1" height="7" fill="#00ff00"/>
<rect x="1158" y="506" width="3" height="5" fill="#00ff00"/>
<rect x="1163" y="470" width="1" height="70" fill="#ff0000"/>
<rect x="1162" y="480" width="3" height="33" fill="#ff0000"/>
<rect x="1167" y="463" width="1" height="39" fill="#00ff00"/>
<rect x="1166" y="480" width="3" height="17" fill="#00ff00"/>
<rect x="1171" y="480" width="1" height="33" fill="#ff0000"/>
<rect x="1170" y="485" width="3" height="12" fill="#ff0000"/>
<rect x="1175" y="474" width="1" height="25" fill="#00ff00"/>
<rect x="1174" y="485" width="3" height="12" fill="#00ff00"/>
<rect x="1179" y="480" width="1" height="19" fill="#ff0000"/>
<rect x="1178" y="492" width="3" height="5" fill="#ff0000"/>
<rect x="1183" y="491" width="1" height="10" fill="#00ff00"/>
<rect x="1182" y="492" width="3" height="7" fill="#00ff00"/>
<rect x="1187" y="506" width="1" height="20" fill="#00ff00"/>
<rect x="1186" y="508" width="3" height="13" fill="#00ff00"/>
<rect x="1191" y="517" width="1" height="24" fill="#00ff00"/>
<rect x="1190" y="520" width="3" height="15" fill="#00ff00"/>
<rect x="1195" y="525" width="1" height="27" fill="#ff0000"/>
<rect x="1194" y="533" width="3" height="2" fill="#ff0000"/>
<rect x="1199" y="507" width="1" height="29" fill="#ff0000"/>
<rect x="1198" y="517" width="3" height="17" fill="#ff0000"/>
<rect x="1203" y="513" width="1" height="23" fill="#00ff00"/>
<rect x="1202" y="517" width="3" height="15" fill="#00ff00"/>
<rect x="1207" y="530" width="1" height="7" fill="#00ff00"/>
<rect x="1206" y="531" width="3" height="5" fill="#00ff00"/>
<rect x="1211" y="510" width="1" height="31" fill="#ff0000"/>
<rect x="1210" y="511" width="3" height="21" fill="#ff0000"/>
<rect x="1215" y="502" width="1" height="23" fill="#ff0000"/>
<rect x="1214" y="511" width="3" height="1" fill="#ff0000"/>
<rect x="1219" y="509" width="1" height="18" fill="#00ff00"/>
<rect x="1218" y="510" width="3" height="8" fill="#00ff00"/>
<rect x="1223" y="518" width="1" height="16" fill="#00ff00"/>
<rect x="1222" y="520" width="3" height="8" fill="#00ff00"/>
<rect x="1227" y="516" width="1" height="12" fill="#ff0000"/>
<rect x="1226" y="523" width="3" height="4" fill="#ff0000"/>
<rect x="1231" y="520" width="1" height="6" fill="#ff0000"/>
<rect x="1230" y="521" width="3" height="4" fill="#ff0000"/>
<rect x="1235" y="509" width="1" height="18" fill="#ff0000"/>
<rect x="1234" y="515" width="3" height="7" fill="#ff0000"/>
<rect x="1239" y="511" width="1" height="25" fill="#00ff00"/>
<rect x="1238" y="515" width="3" height="16" fill="#00ff00"/>
<rect x="1243" y="528" width="1" height="15" fill="#00ff00"/>
<rect x="1242" y="531" width="3" height="5" fill="#00ff00"/>
<rect x="1247" y="533" width="1" height="22" fill="#00ff00"/>
<rect x="1246" y="535" width="3" height="14" fill="#00ff00"/>
<rect x="1251" y="543" width="1" height="22" fill="#00ff00"/>
<rect x="1250" y="548" width="3" height="16" fill="#00ff00"/>
<rect x="1255" y="561" width="1" height="10" fill="#00ff00"/>
<rect x="1254" y="562" width="3" height="5" fill="#00ff00"/>
<rect x="1259" y="548" width="1" height="20" fill="#ff0000"/>
<rect x="1258" y="560" width="3" height="4" fill="#ff0000"/>
<rect x="1263" y="555" width="1" height="15" fill="#00ff00"/>
<rect x="1262" y="560" width="3" height="2" fill="#00ff00"/>
<rect x="1267" y="558" width="1" height="8" fill="#00ff00"/>
<rect x="1266" y="561" width="3" height="2" fill="#00ff00"/>
</g>
<g clip-path="url(#cm)" shape-rendering="crispEdges">
<polyline points="3,183.0 7,182.8 11,182.6 15,182.4 19,182.2 23,182.0 27,181.8 31,181.8 35,182.1 39,182.4 43,182.7 47,183.0 51,183.3 55,183.6 59,183.9 63,184.6 67,185.4 71,186.2 75,187.0 79,187.8 83,188.6 87,189.4 91,190.5 95,192.6 99,194.7 103,196.8 107,198.9 111,201.2 115,204.0 119,206.8 123,209.7 127,212.5 131,215.6 135,219.6 139,223.6 143,227.5 147,231.5 151,235.1 155,237.4 159,239.7 163,242.0 167,244.4 171,246.7 175,249.0 179,249.0 183,249.0 187,249.0 191,249.0 195,249.0 199,249.0 203,248.5 207,247.7 211,247.0 215,246.3 219,245.6 223,244.9 227,244.1 231,243.4 235,242.7 239,241.2 243,239.7 247,238.2 251,236.6 255,235.0 259,230.8 263,226.6 267,222.4 271,218.1 275,213.8 279,210.6 283,207.8 287,205.0 291,203.6 295,202.2 299,202.7 303,203.6 307,204.4 311,205.3 315,206.7 319,208.0 323,209.3 327,210.6 331,211.4 335,210.6 339,209.8 343,209.1 347,208.3 351,206.9 355,203.8 359,200.7 363,197.6 367,194.6 371,191.8 375,189.0 379,186.2 383,183.9 387,181.8 391,179.7 395,177.6 399,175.5 403,172.6 407,169.4 411,166.2 415,163.0 419,159.8 423,157.5 427,155.5 431,153.5 435,151.5 439,149.5 443,147.4 447,145.3 451,143.2 455,141.1 459,138.9 463,136.8 467,134.6 471,133.2 475,134.0 479,134.8 483,135.6 487,136.4 491,137.0 495,137.0 499,137.0 503,137.0 507,137.0 511,137.0 515,136.8 519,136.6 523,136.5 527,136.3 531,136.2 535,136.0 539,134.6 543,133.3 547,131.9 551,130.6 555,129.2 559,127.8 563,126.5 567,125.2 571,123.8 575,122.5 579,121.1 583,119.5 587,117.9 591,116.2 595,114.5 599,112.8 603,111.1 607,109.9 611,109.2 615,108.4 619,107.6 623,106.9 627,107.3 631,108.9 635,110.4 639,112.0 643,112.9 647,113.6 651,114.3 655,114.9 659,115.6 663,116.3 667,117.0 671,117.7 675,118.5 679,119.4 683,120.9 687,122.4 691,123.9 695,125.3 699,126.6 703,127.9 707,129.6 711,131.9 715,134.2 719,136.4 723,138.8 727,141.3 731,143.7 735,146.5 739,149.3 743,152.1 747,154.6 751,156.0 755,157.5 759,158.9 763,160.4 767,162.2 771,163.9 775,165.6 779,168.6 783,171.2 787,173.4 791,175.5 795,177.7 799,179.1 803,179.8 807,181.0 811,183.0 815,185.0 819,187.6 823,190.5 827,193.4 831,196.2 835,199.1 839,201.7 843,204.2 847,206.1 851,207.7 855,209.4 859,211.0 863,212.5 867,214.1 871,215.6 875,217.8 879,220.0 883,222.0 887,223.7 891,225.4 895,227.1 899,229.1 903,231.1 907,233.1 911,236.4 915,240.5 919,244.5 923,248.5 927,252.5 931,256.3 935,259.8 939,263.4 943,267.4 947,271.4 951,274.7 955,277.4 959,280.1 963,283.8 967,287.8 971,291.8 975,295.8 979,299.8 983,303.8 987,307.8 991,311.7 995,315.3 999,318.3 1003,321.3 1007,324.2 1011,326.2 1015,328.2 1019,330.2 1023,332.6 1027,335.6 1031,338.4 1035,340.9 1039,343.4 1043,345.9 1047,348.4 1051,351.7 1055,355.0 1059,358.3 1063,361.2 1067,363.9 1071,366.6 1075,369.7 1079,373.0 1083,376.2 1087,379.3 1091,382.1 1095,384.9 1099,387.8 1103,390.6 1107,393.4 1111,396.2 1115,399.1 1119,401.6 1123,404.1 1127,406.6 1131,409.1 1135,412.2 1139,415.6 1143,419.0 1147,422.4 1151,426.0 1155,429.7 1159,433.4 1163,436.6 1167,439.4 1171,442.3 1175,445.1 1179,447.2 1183,449.8 1187,453.8 1191,457.8 1195,461.8 1199,465.5 1203,469.0 1207,472.0 1211,474.4 1215,476.7 1219,479.0 1223,481.0 1227,483.0 1231,485.8 1235,489.4 1239,493.0 1243,497.8 1247,502.8 1251,507.8 1255,512.0 1259,515.7 1263,519.4 1267,522.4" fill="none" stroke="#0000cd" stroke-width="1" />
<polyline points="3,173.0 7,173.0 11,173.0 15,173.0 19,173.0 23,173.0 27,174.6 31,177.8 35,181.0 39,184.2 43,187.4 47,190.6 51,193.4 55,194.9 59,196.4 63,198.0 67,199.5 71,201.1 75,202.6 79,204.1 83,205.7 87,207.3 91,209.0 95,210.6 99,212.2 103,213.9 107,215.5 111,217.8 115,222.3 119,226.7 123,231.2 127,235.7 131,240.2 135,245.0 139,249.8 143,254.6 147,259.4 151,264.0 155,268.0 159,274.0 163,277.0 167,277.0 171,277.0 175,277.0 179,273.0 183,269.0 187,265.0 191,260.4 195,254.0 199,247.6 203,241.2 207,234.8 211,228.9 215,224.5 219,220.1 223,215.7 227,211.3 231,208.0 235,208.1 239,208.1 243,208.2 247,208.3 251,208.3 255,208.4 259,206.2 263,203.9 267,201.7 271,199.7 275,198.4 279,197.1 283,195.8 287,194.6 291,193.3 295,192.0 299,194.7 303,197.3 307,200.0 311,203.5 315,209.5 319,215.5 323,219.0 327,221.7 331,224.3 335,227.0 339,225.7 343,224.3 347,223.0 351,219.7 355,210.7 359,201.6 363,192.5 367,183.5 371,174.4 375,165.3 379,156.3 383,149.7 387,143.8 391,138.1 395,132.2 399,126.5 403,124.4 407,123.6 411,122.8 415,122.0 419,121.2 423,123.6 427,126.5 431,128.9 435,132.8 439,136.6 443,139.1 447,141.1 451,142.8 455,143.2 459,143.6 463,145.3 467,147.4 471,148.7 475,147.7 479,146.6 483,145.5 487,144.4 491,143.0 495,140.4 499,137.9 503,135.4 507,132.9 511,130.5 515,128.5 519,126.6 523,124.6 527,123.6 531,123.6 535,123.6 539,123.6 543,123.6 547,122.3 551,119.8 555,117.2 559,114.6 563,115.1 567,116.5 571,118.0 575,116.5 579,114.4 583,112.2 587,110.0 591,107.9 595,105.2 599,102.0 603,98.7 607,95.8 611,95.8 615,96.0 619,96.3 623,96.6 627,99.2 631,101.9 635,105.2 639,109.1 643,113.6 647,119.1 651,124.4 655,129.0 659,133.6 663,137.1 667,139.9 671,140.9 675,141.9 679,143.4 683,145.0 687,146.5 691,146.5 695,145.7 699,144.0 703,142.3 707,142.9 711,143.5 715,144.1 719,144.7 723,146.4 727,148.5 731,150.7 735,152.8 739,155.0 743,158.2 747,161.3 751,164.6 755,168.4 759,172.2 763,176.1 767,180.7 771,185.2 775,190.9 779,197.8 783,200.0 787,200.7 791,201.4 795,201.7 799,201.7 803,201.7 807,201.7 811,201.9 815,202.1 819,202.3 823,202.5 827,202.7 831,203.7 835,205.7 839,207.5 843,209.1 847,210.7 851,213.5 855,216.8 859,220.2 863,223.5 867,226.8 871,230.1 875,233.6 879,237.6 883,241.6 887,245.5 891,246.5 895,247.5 899,251.2 903,255.2 907,259.2 911,263.2 915,267.3 919,271.3 923,276.3 927,281.2 931,285.3 935,289.3 939,293.3 943,297.3 947,301.4 951,305.4 955,309.2 959,313.0 963,316.1 967,319.0 971,322.8 975,326.8 979,330.8 983,334.5 987,338.2 991,341.9 995,344.7 999,346.0 1003,347.3 1007,348.5 1011,349.1 1015,349.7 1019,350.3 1023,350.9 1027,351.7 1031,352.4 1035,353.2 1039,354.0 1043,355.5 1047,357.0 1051,361.0 1055,365.1 1059,371.7 1063,378.7 1067,384.2 1071,389.2 1075,394.4 1079,399.7 1083,405.0 1087,409.7 1091,413.3 1095,417.1 1099,420.9 1103,424.7 1107,428.4 1111,432.2 1115,432.8 1119,433.1 1123,433.3 1127,433.6 1131,434.2 1135,434.9 1139,435.7 1143,436.4 1147,437.7 1151,440.0 1155,442.3 1159,444.6 1163,448.0 1167,452.0 1171,456.0 1175,461.9 1179,467.9 1183,473.9 1187,480.6 1191,487.5 1195,493.5 1199,498.9 1203,504.2 1207,507.9 1211,509.3 1215,510.6 1219,512.1 1223,514.1 1227,516.1 1231,518.1 1235,520.1 1239,522.1 1243,524.1 1247,526.1 1251,528.1 1255,530.1 1259,532.7 1263,535.8 1267,538.4" fill="none" stroke="#ff0000" stroke-width="1" />
<polyline points="3,165.0 7,168.5 11,172.1 15,175.6 19,179.1 23,183.7 27,188.6 31,193.5 35,198.4 39,203.3 43,203.4 47,202.1 51,200.7 55,199.2 59,197.8 63,198.6 67,200.0 71,201.5 75,204.7 79,207.8 83,213.4 87,219.9 91,225.2 95,227.2 99,229.3 103,230.1 107,230.5 111,232.2 115,237.9 119,243.6 123,251.3 127,259.7 131,267.5 135,273.5 139,279.5 143,284.9 147,290.1 151,294.2 155,295.0 159,289.1 163,281.1 167,272.5 171,263.9 175,255.4 179,246.9 183,238.3 187,229.5 191,221.5 195,215.7 199,209.9 203,206.5 207,203.9 211,202.5 215,204.5 219,206.5 223,207.4 227,208.0 231,208.8 235,210.6 239,212.3 243,214.1 247,213.7 251,211.0 255,208.4 259,202.4 263,196.5 267,190.5 271,184.5 275,178.5 279,176.8 283,179.0 287,182.4 291,187.5 295,197.5 299,207.5 303,218.1 307,228.9 311,238.4 315,244.0 319,249.6 323,247.8 327,243.6 331,237.0 335,223.2 339,209.4 343,198.2 347,187.8 351,176.6 355,163.0 359,149.4 363,136.7 367,124.3 371,113.6 375,108.0 379,112.4 383,116.8 387,120.0 391,122.0 395,121.7 399,124.6 403,125.3 407,125.3 411,123.4 415,122.5 419,123.3 423,127.3 427,133.4 431,140.3 435,150.8 439,159.0 443,160.7 447,160.3 451,159.0 455,155.0 459,151.0 463,147.2 467,143.6 471,140.1 475,137.4 479,134.7 483,133.1 487,131.9 491,131.6 495,134.0 499,136.4 503,137.6 507,135.2 511,128.9 515,120.5 519,112.1 523,107.4 527,108.2 531,113.2 535,117.8 539,122.4 543,123.0 547,122.3 551,120.8 555,117.3 559,113.9 563,110.8 567,109.9 571,111.0 575,112.0 579,109.0 583,106.1 587,101.2 591,94.3 595,87.5 599,84.9 603,82.3 607,81.7 611,84.6 615,91.9 619,99.2 623,109.0 627,119.5 631,129.3 635,136.8 639,144.2 643,148.6 647,150.0 651,149.3 655,148.5 659,145.5 663,142.5 667,141.0 671,141.0 675,141.0 679,143.6 683,146.2 687,148.3 691,150.0 695,148.9 699,146.8 703,144.7 707,143.4 711,142.9 715,144.1 719,145.8 723,147.4 727,149.1 731,152.6 735,161.2 739,169.8 743,180.6 747,192.1 751,195.8 755,196.8 759,197.8 763,199.7 767,201.9 771,204.3 775,206.9 779,209.5 783,208.7 787,206.7 791,204.6 795,201.3 799,198.1 803,195.1 807,193.3 811,193.8 815,195.0 819,199.0 823,203.0 827,207.9 831,212.7 835,217.5 839,222.3 843,227.1 847,229.8 851,231.8 855,233.8 859,236.6 863,239.4 867,242.1 871,244.5 875,246.9 879,250.4 883,254.4 887,258.4 891,261.8 895,264.0 899,264.6 903,265.8 907,268.7 911,276.7 915,285.3 919,294.2 923,302.0 927,308.5 931,313.7 935,316.2 939,318.5 943,320.0 947,321.3 951,320.0 955,320.1 959,322.0 963,322.5 967,325.9 971,332.7 975,339.5 979,349.9 983,360.4 987,367.9 991,372.4 995,369.6 999,364.3 1003,357.5 1007,350.2 1011,343.4 1015,338.4 1019,333.3 1023,333.5 1027,335.6 1031,348.6 1035,361.7 1039,373.9 1043,384.5 1047,390.5 1051,396.4 1055,402.0 1059,407.6 1063,412.0 1067,414.0 1071,414.0 1075,414.0 1079,411.1 1083,414.5 1087,420.0 1091,426.4 1095,435.4 1099,443.8 1103,447.8 1107,451.8 1111,452.8 1115,450.1 1119,442.1 1123,433.2 1127,427.4 1131,423.1 1135,418.8 1139,420.1 1143,425.2 1147,435.1 1151,447.9 1155,461.6 1159,476.3 1163,487.7 1167,496.8 1171,494.8 1175,492.8 1179,490.7 1183,494.4 1187,499.4 1191,505.8 1195,512.8 1199,519.1 1203,524.6 1207,530.2 1211,526.6 1215,521.7 1219,519.7 1223,518.9 1227,518.2 1231,519.8 1235,521.4 1239,523.6 1243,526.6 1247,530.5 1251,537.2 1255,547.0 1259,555.0 1263,559.6 1267,561.8" fill="none" stroke="#ffa500" stroke-width="1" />
</g>
<rect x="3" y="125" width="1593" height="2" fill="#ff0000"/>
<rect x="3" y="199" width="1593" height="2" fill="#ff0000"/>
<rect x="3" y="282" width="1593" height="2" fill="#ff0000"/>
<rect x="3" y="378" width="1593" height="2" fill="#ff0000"/>
<rect x="3" y="478" width="1593" height="2" fill="#00ff00"/>
<rect x="3" y="552" width="1593" height="2" fill="#0000ff"/>
<rect x="1595" y="52" width="3" height="1" fill="#000"/>
<text x="1601" y="55.2" font-family='"Liberation Sans", sans-serif' font-size="9.6" fill="#000" stroke="#000" stroke-width="0.25" textLength="32.0" lengthAdjust="spacingAndGlyphs">7.19840</text>
<rect x="1595" y="85" width="3" height="1" fill="#000"/>
<text x="1601" y="88.2" font-family='"Liberation Sans", sans-serif' font-size="9.6" fill="#000" stroke="#000" stroke-width="0.25" textLength="32.0" lengthAdjust="spacingAndGlyphs">7.15420</text>
<rect x="1595" y="118" width="3" height="1" fill="#000"/>
<text x="1601" y="121.2" font-family='"Liberation Sans", sans-serif' font-size="9.6" fill="#000" stroke="#000" stroke-width="0.25" textLength="32.0" lengthAdjust="spacingAndGlyphs">7.11000</text>
<rect x="1595" y="151" width="3" height="1" fill="#000"/>
<text x="1601" y="154.2" font-family='"Liberation Sans", sans-serif' font-size="9.6" fill="#000" stroke="#000" stroke-width="0.25" textLength="32.0" lengthAdjust="spacingAndGlyphs">7.06580</text>
<rect x="1595" y="184" width="3" height="1" fill="#000"/>
<text x="1601" y="187.2" font-family='"Liberation Sans", sans-serif' font-size="9.6" fill="#000" stroke="#000" stroke-width="0.25" textLength="32.0" lengthAdjust="spacingAndGlyphs">7.02160</text>
<rect x="1595" y="217" width="3" height="1" fill="#000"/>
<text x="1601" y="220.2" font-family='"Liberation Sans", sans-serif' font-size="9.6" fill="#000" stroke="#000" stroke-width="0.25" textLength="32.0" lengthAdjust="spacingAndGlyphs">6.97740</text>
<rect x="1595" y="250" width="3" height="1" fill="#000"/>
<text x="1601" y="253.2" font-family='"Liberation Sans", sans-serif' font-size="9.6" fill="#000" stroke="#000" stroke-width="0.25" textLength="32.0" lengthAdjust="spacingAndGlyphs">6.93320</text>
<rect x="1595" y="283" width="3" height="1" fill="#000"/>
<text x="1601" y="286.2" font-family='"Liberation Sans", sans-serif' font-size="9.6" fill="#000" stroke="#000" stroke-width="0.25" textLength="32.0" lengthAdjust="spacingAndGlyphs">6.88900</text>
<rect x="1595" y="316" width="3" height="1" fill="#000"/>
<text x="1601" y="319.2" font-family='"Liberation Sans", sans-serif' font-size="9.6" fill="#000" stroke="#000" stroke-width="0.25" textLength="32.0" lengthAdjust="spacingAndGlyphs">6.84480</text>
<rect x="1595" y="349" width="3" height="1" fill="#000"/>
<text x="1601" y="352.2" font-family='"Liberation Sans", sans-serif' font-size="9.6" fill="#000" stroke="#000" stroke-width="0.25" textLength="32.0" lengthAdjust="spacingAndGlyphs">6.80060</text>
<rect x="1595" y="382" width="3" height="1" fill="#000"/>
<text x="1601" y="385.2" font-family='"Liberation Sans", sans-serif' font-size="9.6" fill="#000" stroke="#000" stroke-width="0.25" textLength="32.0" lengthAdjust="spacingAndGlyphs">6.75640</text>
<rect x="1595" y="415" width="3" height="1" fill="#000"/>
<text x="1601" y="418.2" font-family='"Liberation Sans", sans-serif' font-size="9.6" fill="#000" stroke="#000" stroke-width="0.25" textLength="32.0" lengthAdjust="spacingAndGlyphs">6.71220</text>
<rect x="1595" y="448" width="3" height="1" fill="#000"/>
<text x="1601" y="451.2" font-family='"Liberation Sans", sans-serif' font-size="9.6" fill="#000" stroke="#000" stroke-width="0.25" textLength="32.0" lengthAdjust="spacingAndGlyphs">6.66800</text>
<rect x="1595" y="481" width="3" height="1" fill="#000"/>
<text x="1601" y="484.2" font-family='"Liberation Sans", sans-serif' font-size="9.6" fill="#000" stroke="#000" stroke-width="0.25" textLength="32.0" lengthAdjust="spacingAndGlyphs">6.62380</text>
<rect x="1595" y="514" width="3" height="1" fill="#000"/>
<text x="1601" y="517.2" font-family='"Liberation Sans", sans-serif' font-size="9.6" fill="#000" stroke="#000" stroke-width="0.25" textLength="32.0" lengthAdjust="spacingAndGlyphs">6.58090</text>
<rect x="1595" y="547" width="3" height="1" fill="#000"/>
<text x="1601" y="550.2" font-family='"Liberation Sans", sans-serif' font-size="9.6" fill="#000" stroke="#000" stroke-width="0.25" textLength="32.0" lengthAdjust="spacingAndGlyphs">6.53670</text>
<rect x="1595" y="580" width="3" height="1" fill="#000"/>
<text x="1601" y="583.2" font-family='"Liberation Sans", sans-serif' font-size="9.6" fill="#000" stroke="#000" stroke-width="0.25" textLength="32.0" lengthAdjust="spacingAndGlyphs">6.49250</text>
<rect x="1597" y="120" width="40" height="11" fill="#ff0000"/>
<text x="1601" y="128.3" font-family='"Liberation Sans", sans-serif' font-size="9.6" fill="#fff" stroke="#fff" stroke-width="0.25" textLength="32.0" lengthAdjust="spacingAndGlyphs">7.10011</text>
<rect x="1597" y="194" width="40" height="11" fill="#ff0000"/>
<text x="1601" y="202.3" font-family='"Liberation Sans", sans-serif' font-size="9.6" fill="#fff" stroke="#fff" stroke-width="0.25" textLength="32.0" lengthAdjust="spacingAndGlyphs">7.00029</text>
<rect x="1597" y="277" width="40" height="11" fill="#ff0000"/>
<text x="1601" y="285.3" font-family='"Liberation Sans", sans-serif' font-size="9.6" fill="#fff" stroke="#fff" stroke-width="0.25" textLength="32.0" lengthAdjust="spacingAndGlyphs">6.88897</text>
<rect x="1597" y="373" width="40" height="11" fill="#ff0000"/>
<text x="1601" y="381.3" font-family='"Liberation Sans", sans-serif' font-size="9.6" fill="#fff" stroke="#fff" stroke-width="0.25" textLength="32.0" lengthAdjust="spacingAndGlyphs">6.76157</text>
<rect x="1597" y="473" width="40" height="11" fill="#00ff00"/>
<text x="1601" y="481.3" font-family='"Liberation Sans", sans-serif' font-size="9.6" fill="#fff" stroke="#fff" stroke-width="0.25" textLength="32.0" lengthAdjust="spacingAndGlyphs">6.62646</text>
<rect x="1597" y="547" width="40" height="11" fill="#0000ff"/>
<text x="1601" y="555.3" font-family='"Liberation Sans", sans-serif' font-size="9.6" fill="#fff" stroke="#fff" stroke-width="0.25" textLength="32.0" lengthAdjust="spacingAndGlyphs">6.52865</text>
<rect x="1597" y="558" width="40" height="10" fill="#000000"/>
<text x="1601" y="565.3" font-family='"Liberation Sans", sans-serif' font-size="9.6" fill="#fff" stroke="#fff" stroke-width="0.25" textLength="32.0" lengthAdjust="spacingAndGlyphs">6.51648</text>
<path d="M6,34 L13,34 L9.5,38 Z" fill="#000" shape-rendering="auto"/>
<text x="18.3" y="39" font-family='"Liberation Sans", sans-serif' font-size="10.4" fill="#000" stroke="#000" stroke-width="0.15" textLength="65.5" lengthAdjust="spacingAndGlyphs">USDCNH,Daily</text>
<text x="90" y="39" font-family='"Liberation Sans", sans-serif' font-size="10.4" fill="#000" stroke="#000" stroke-width="0.15" textLength="141.0" lengthAdjust="spacingAndGlyphs">6.51786 6.52187 6.51210 6.51648</text>
<g clip-path="url(#cr)">
<line x1="4" y1="616.5" x2="1595" y2="616.5" stroke="#c0c0c0" stroke-width="1" stroke-dasharray="3,3"/>
<line x1="4" y1="656.5" x2="1595" y2="656.5" stroke="#c0c0c0" stroke-width="1" stroke-dasharray="3,3"/>
</g>
<g clip-path="url(#cr)" shape-rendering="crispEdges">
<polyline points="3,638.4 6,641.4 11,637.6 16,638.9 20,637.6 23,652.2 28,641.4 37,646.6 44,642.2 54,643.5 60,639.4 67,641.4 75,645.3 80,644.5 88,653.0 95,654.3 105,650.4 108,647.9 113,654.8 118,659.4 125,662.0 132,667.0 140,663.2 147,667.0 155,665.0 160,645.3 166,634.3 173,636.3 178,623.0 187,628.0 193,621.4 200,621.4 204,619.6 212,632.5 222,625.5 232,636.3 245,630.7 252,634.3 258,628.6 264,620.4 274,623.5 283,626.6 292,638.9 308,654.8 313,647.9 320,649.0 333,639.4 336,623.0 345,625.5 348,633.7 360,613.7 368,617.0 372,617.0 377,628.0 380,623.0 386,630.0 395,628.0 400,632.5 405,629.0 410,631.0 418,630.7 423,638.9 427,637.6 437,640.2 443,638.4 447,640.2 455,633.2 467,633.7 472,629.0 480,634.3 490,632.5 503,638.9 508,623.5 513,623.5 520,628.6 524,627.3 530,637.6 540,633.7 543,636.3 550,631.7 557,627.3 570,635.0 573,637.6 580,625.5 590,626.0 595,617.0 600,628.0 605,628.0 615,641.0 620,639.4 627,649.0 633,650.4 639,646.6 643,651.2 650,644.0 660,641.0 670,641.4 677,643.5 683,649.0 690,638.9 700,637.6 712,644.0 725,643.5 730,658.0 743,662.0 750,654.3 756,656.8 760,651.7 765,657.3 773,654.3 785,655.5 788,644.5 793,645.3 797,635.8 805,643.5 812,644.0 815,639.4 820,647.0 823,645.3 830,647.6 835,658.2 843,644.4 848,644.7 857,651.0 860,652.5 864,648.2 872,649.6 880,656.2 889,655.3 894,649.6 902,653.3 907,652.5 912,658.2 927,666.8 935,658.2 945,661.0 951,651.6 958,655.3 967,654.5 980,668.3 987,662.0 992,658.2 995,646.7 1000,651.0 1005,642.4 1011,636.7 1020,636.7 1025,641.0 1029,638.1 1040,654.5 1043,656.2 1045,650.5 1048,652.5 1050,652.5 1057,652.5 1060,649.6 1063,657.4 1068,641.8 1074,643.9 1079,645.9 1086,648.7 1100,656.8 1105,648.7 1112,648.7 1117,640.0 1124,636.0 1130,639.5 1140,642.4 1147,652.5 1156,659.0 1163,659.0 1165,648.7 1170,651.0 1172,647.6 1176,650.5 1180,648.7 1190,653.9 1197,656.2 1200,649.6 1206,653.3 1212,644.7 1220,645.3 1226,648.2 1235,644.7 1240,648.7 1245,651.0 1254,657.4 1258,654.5 1267,654.5" fill="none" stroke="#1e90ff" stroke-width="1"/>
</g>
<text x="7" y="598" font-family='"Liberation Sans", sans-serif' font-size="10.4" fill="#000" stroke="#000" stroke-width="0.15" textLength="66.8" lengthAdjust="spacingAndGlyphs">RSI(14) 32.4231</text>
<text x="1599" y="596.2" font-family='"Liberation Sans", sans-serif' font-size="9.6" fill="#000" stroke="#000" stroke-width="0.25" textLength="14.5" lengthAdjust="spacingAndGlyphs">100</text>
<text x="1599" y="619.8" font-family='"Liberation Sans", sans-serif' font-size="9.6" fill="#000" stroke="#000" stroke-width="0.25" textLength="9.7" lengthAdjust="spacingAndGlyphs">70</text>
<text x="1599" y="659.7" font-family='"Liberation Sans", sans-serif' font-size="9.6" fill="#000" stroke="#000" stroke-width="0.25" textLength="9.7" lengthAdjust="spacingAndGlyphs">30</text>
<text x="1599" y="683.9" font-family='"Liberation Sans", sans-serif' font-size="9.6" fill="#000" stroke="#000" stroke-width="0.25" textLength="4.8" lengthAdjust="spacingAndGlyphs">0</text>
<rect x="1596" y="583" width="2" height="1" fill="#000"/>
<rect x="1596" y="585" width="2" height="1" fill="#000"/>
<rect x="1596" y="686" width="2" height="1" fill="#000"/>
<rect x="1596" y="689" width="2" height="1" fill="#000"/>
<rect x="1596" y="790" width="2" height="1" fill="#000"/>
<g clip-path="url(#cd)">
<rect x="3" y="740" width="1" height="1" fill="#c0c0c0"/>
<rect x="7" y="740" width="1" height="1" fill="#c0c0c0"/>
<rect x="11" y="740" width="1" height="1" fill="#c0c0c0"/>
<rect x="15" y="740" width="1" height="1" fill="#c0c0c0"/>
<rect x="19" y="740" width="1" height="1" fill="#c0c0c0"/>
<rect x="23" y="740" width="1" height="6" fill="#c0c0c0"/>
<rect x="27" y="740" width="1" height="7" fill="#c0c0c0"/>
<rect x="31" y="740" width="1" height="9" fill="#c0c0c0"/>
<rect x="35" y="740" width="1" height="11" fill="#c0c0c0"/>
<rect x="39" y="740" width="1" height="12" fill="#c0c0c0"/>
<rect x="43" y="740" width="1" height="12" fill="#c0c0c0"/>
<rect x="47" y="740" width="1" height="12" fill="#c0c0c0"/>
<rect x="51" y="740" width="1" height="12" fill="#c0c0c0"/>
<rect x="55" y="740" width="1" height="12" fill="#c0c0c0"/>
<rect x="59" y="740" width="1" height="11" fill="#c0c0c0"/>
<rect x="63" y="740" width="1" height="12" fill="#c0c0c0"/>
<rect x="67" y="740" width="1" height="12" fill="#c0c0c0"/>
<rect x="71" y="740" width="1" height="12" fill="#c0c0c0"/>
<rect x="75" y="740" width="1" height="12" fill="#c0c0c0"/>
<rect x="79" y="740" width="1" height="13" fill="#c0c0c0"/>
<rect x="83" y="740" width="1" height="14" fill="#c0c0c0"/>
<rect x="87" y="740" width="1" height="15" fill="#c0c0c0"/>
<rect x="91" y="740" width="1" height="16" fill="#c0c0c0"/>
<rect x="95" y="740" width="1" height="17" fill="#c0c0c0"/>
<rect x="99" y="740" width="1" height="18" fill="#c0c0c0"/>
<rect x="103" y="740" width="1" height="18" fill="#c0c0c0"/>
<rect x="107" y="740" width="1" height="18" fill="#c0c0c0"/>
<rect x="111" y="740" width="1" height="19" fill="#c0c0c0"/>
<rect x="115" y="740" width="1" height="21" fill="#c0c0c0"/>
<rect x="119" y="740" width="1" height="23" fill="#c0c0c0"/>
<rect x="123" y="740" width="1" height="26" fill="#c0c0c0"/>
<rect x="127" y="740" width="1" height="28" fill="#c0c0c0"/>
<rect x="131" y="740" width="1" height="32" fill="#c0c0c0"/>
<rect x="135" y="740" width="1" height="35" fill="#c0c0c0"/>
<rect x="139" y="740" width="1" height="36" fill="#c0c0c0"/>
<rect x="143" y="740" width="1" height="38" fill="#c0c0c0"/>
<rect x="147" y="740" width="1" height="40" fill="#c0c0c0"/>
<rect x="151" y="740" width="1" height="41" fill="#c0c0c0"/>
<rect x="155" y="740" width="1" height="41" fill="#c0c0c0"/>
<rect x="159" y="740" width="1" height="37" fill="#c0c0c0"/>
<rect x="163" y="740" width="1" height="33" fill="#c0c0c0"/>
<rect x="167" y="740" width="1" height="27" fill="#c0c0c0"/>
<rect x="171" y="740" width="1" height="23" fill="#c0c0c0"/>
<rect x="175" y="740" width="1" height="19" fill="#c0c0c0"/>
<rect x="179" y="740" width="1" height="11" fill="#c0c0c0"/>
<rect x="183" y="740" width="1" height="5" fill="#c0c0c0"/>
<rect x="187" y="740" width="1" height="1" fill="#c0c0c0"/>
<rect x="191" y="737" width="1" height="3" fill="#c0c0c0"/>
<rect x="195" y="732" width="1" height="8" fill="#c0c0c0"/>
<rect x="199" y="728" width="1" height="12" fill="#c0c0c0"/>
<rect x="203" y="724" width="1" height="16" fill="#c0c0c0"/>
<rect x="207" y="724" width="1" height="16" fill="#c0c0c0"/>
<rect x="211" y="725" width="1" height="15" fill="#c0c0c0"/>
<rect x="215" y="726" width="1" height="14" fill="#c0c0c0"/>
<rect x="219" y="724" width="1" height="16" fill="#c0c0c0"/>
<rect x="223" y="723" width="1" height="17" fill="#c0c0c0"/>
<rect x="227" y="726" width="1" height="14" fill="#c0c0c0"/>
<rect x="231" y="726" width="1" height="14" fill="#c0c0c0"/>
<rect x="235" y="728" width="1" height="12" fill="#c0c0c0"/>
<rect x="239" y="729" width="1" height="11" fill="#c0c0c0"/>
<rect x="243" y="729" width="1" height="11" fill="#c0c0c0"/>
<rect x="247" y="729" width="1" height="11" fill="#c0c0c0"/>
<rect x="251" y="730" width="1" height="10" fill="#c0c0c0"/>
<rect x="255" y="729" width="1" height="11" fill="#c0c0c0"/>
<rect x="259" y="728" width="1" height="12" fill="#c0c0c0"/>
<rect x="263" y="724" width="1" height="16" fill="#c0c0c0"/>
<rect x="267" y="722" width="1" height="18" fill="#c0c0c0"/>
<rect x="271" y="720" width="1" height="20" fill="#c0c0c0"/>
<rect x="275" y="720" width="1" height="20" fill="#c0c0c0"/>
<rect x="279" y="720" width="1" height="20" fill="#c0c0c0"/>
<rect x="283" y="720" width="1" height="20" fill="#c0c0c0"/>
<rect x="287" y="722" width="1" height="18" fill="#c0c0c0"/>
<rect x="291" y="727" width="1" height="13" fill="#c0c0c0"/>
<rect x="295" y="730" width="1" height="10" fill="#c0c0c0"/>
<rect x="299" y="735" width="1" height="5" fill="#c0c0c0"/>
<rect x="303" y="740" width="1" height="1" fill="#c0c0c0"/>
<rect x="307" y="740" width="1" height="6" fill="#c0c0c0"/>
<rect x="311" y="740" width="1" height="10" fill="#c0c0c0"/>
<rect x="315" y="740" width="1" height="13" fill="#c0c0c0"/>
<rect x="319" y="740" width="1" height="15" fill="#c0c0c0"/>
<rect x="323" y="740" width="1" height="15" fill="#c0c0c0"/>
<rect x="327" y="740" width="1" height="14" fill="#c0c0c0"/>
<rect x="331" y="740" width="1" height="13" fill="#c0c0c0"/>
<rect x="335" y="740" width="1" height="5" fill="#c0c0c0"/>
<rect x="339" y="740" width="1" height="1" fill="#c0c0c0"/>
<rect x="343" y="737" width="1" height="3" fill="#c0c0c0"/>
<rect x="347" y="736" width="1" height="4" fill="#c0c0c0"/>
<rect x="351" y="732" width="1" height="8" fill="#c0c0c0"/>
<rect x="355" y="725" width="1" height="15" fill="#c0c0c0"/>
<rect x="359" y="714" width="1" height="26" fill="#c0c0c0"/>
<rect x="363" y="706" width="1" height="34" fill="#c0c0c0"/>
<rect x="367" y="701" width="1" height="39" fill="#c0c0c0"/>
<rect x="371" y="697" width="1" height="43" fill="#c0c0c0"/>
<rect x="375" y="699" width="1" height="41" fill="#c0c0c0"/>
<rect x="379" y="697" width="1" height="43" fill="#c0c0c0"/>
<rect x="383" y="699" width="1" height="41" fill="#c0c0c0"/>
<rect x="387" y="700" width="1" height="40" fill="#c0c0c0"/>
<rect x="391" y="702" width="1" height="38" fill="#c0c0c0"/>
<rect x="395" y="702" width="1" height="38" fill="#c0c0c0"/>
<rect x="399" y="706" width="1" height="34" fill="#c0c0c0"/>
<rect x="403" y="706" width="1" height="34" fill="#c0c0c0"/>
<rect x="407" y="710" width="1" height="30" fill="#c0c0c0"/>
<rect x="411" y="710" width="1" height="30" fill="#c0c0c0"/>
<rect x="415" y="711" width="1" height="29" fill="#c0c0c0"/>
<rect x="419" y="712" width="1" height="28" fill="#c0c0c0"/>
<rect x="423" y="719" width="1" height="21" fill="#c0c0c0"/>
<rect x="427" y="722" width="1" height="18" fill="#c0c0c0"/>
<rect x="431" y="727" width="1" height="13" fill="#c0c0c0"/>
<rect x="435" y="732" width="1" height="8" fill="#c0c0c0"/>
<rect x="439" y="736" width="1" height="4" fill="#c0c0c0"/>
<rect x="443" y="738" width="1" height="2" fill="#c0c0c0"/>
<rect x="447" y="740" width="1" height="1" fill="#c0c0c0"/>
<rect x="451" y="740" width="1" height="1" fill="#c0c0c0"/>
<rect x="455" y="738" width="1" height="2" fill="#c0c0c0"/>
<rect x="459" y="738" width="1" height="2" fill="#c0c0c0"/>
<rect x="463" y="737" width="1" height="3" fill="#c0c0c0"/>
<rect x="467" y="736" width="1" height="4" fill="#c0c0c0"/>
<rect x="471" y="734" width="1" height="6" fill="#c0c0c0"/>
<rect x="475" y="734" width="1" height="6" fill="#c0c0c0"/>
<rect x="479" y="733" width="1" height="7" fill="#c0c0c0"/>
<rect x="483" y="733" width="1" height="7" fill="#c0c0c0"/>
<rect x="487" y="732" width="1" height="8" fill="#c0c0c0"/>
<rect x="491" y="732" width="1" height="8" fill="#c0c0c0"/>
<rect x="495" y="733" width="1" height="7" fill="#c0c0c0"/>
<rect x="499" y="734" width="1" height="6" fill="#c0c0c0"/>
<rect x="503" y="732" width="1" height="8" fill="#c0c0c0"/>
<rect x="507" y="730" width="1" height="10" fill="#c0c0c0"/>
<rect x="511" y="728" width="1" height="12" fill="#c0c0c0"/>
<rect x="515" y="727" width="1" height="13" fill="#c0c0c0"/>
<rect x="519" y="726" width="1" height="14" fill="#c0c0c0"/>
<rect x="523" y="727" width="1" height="13" fill="#c0c0c0"/>
<rect x="527" y="728" width="1" height="12" fill="#c0c0c0"/>
<rect x="531" y="730" width="1" height="10" fill="#c0c0c0"/>
<rect x="535" y="730" width="1" height="10" fill="#c0c0c0"/>
<rect x="539" y="731" width="1" height="9" fill="#c0c0c0"/>
<rect x="543" y="732" width="1" height="8" fill="#c0c0c0"/>
<rect x="547" y="732" width="1" height="8" fill="#c0c0c0"/>
<rect x="551" y="731" width="1" height="9" fill="#c0c0c0"/>
<rect x="555" y="730" width="1" height="10" fill="#c0c0c0"/>
<rect x="559" y="729" width="1" height="11" fill="#c0c0c0"/>
<rect x="563" y="730" width="1" height="10" fill="#c0c0c0"/>
<rect x="567" y="730" width="1" height="10" fill="#c0c0c0"/>
<rect x="571" y="731" width="1" height="9" fill="#c0c0c0"/>
<rect x="575" y="732" width="1" height="8" fill="#c0c0c0"/>
<rect x="579" y="730" width="1" height="10" fill="#c0c0c0"/>
<rect x="583" y="728" width="1" height="12" fill="#c0c0c0"/>
<rect x="587" y="726" width="1" height="14" fill="#c0c0c0"/>
<rect x="591" y="723" width="1" height="17" fill="#c0c0c0"/>
<rect x="595" y="721" width="1" height="19" fill="#c0c0c0"/>
<rect x="599" y="721" width="1" height="19" fill="#c0c0c0"/>
<rect x="603" y="721" width="1" height="19" fill="#c0c0c0"/>
<rect x="607" y="723" width="1" height="17" fill="#c0c0c0"/>
<rect x="611" y="727" width="1" height="13" fill="#c0c0c0"/>
<rect x="615" y="731" width="1" height="9" fill="#c0c0c0"/>
<rect x="619" y="733" width="1" height="7" fill="#c0c0c0"/>
<rect x="623" y="734" width="1" height="6" fill="#c0c0c0"/>
<rect x="627" y="740" width="1" height="1" fill="#c0c0c0"/>
<rect x="631" y="740" width="1" height="6" fill="#c0c0c0"/>
<rect x="635" y="740" width="1" height="9" fill="#c0c0c0"/>
<rect x="639" y="740" width="1" height="12" fill="#c0c0c0"/>
<rect x="643" y="740" width="1" height="14" fill="#c0c0c0"/>
<rect x="647" y="740" width="1" height="15" fill="#c0c0c0"/>
<rect x="651" y="740" width="1" height="16" fill="#c0c0c0"/>
<rect x="655" y="740" width="1" height="15" fill="#c0c0c0"/>
<rect x="659" y="740" width="1" height="15" fill="#c0c0c0"/>
<rect x="663" y="740" width="1" height="14" fill="#c0c0c0"/>
<rect x="667" y="740" width="1" height="13" fill="#c0c0c0"/>
<rect x="671" y="740" width="1" height="13" fill="#c0c0c0"/>
<rect x="675" y="740" width="1" height="12" fill="#c0c0c0"/>
<rect x="679" y="740" width="1" height="11" fill="#c0c0c0"/>
<rect x="683" y="740" width="1" height="11" fill="#c0c0c0"/>
<rect x="687" y="740" width="1" height="10" fill="#c0c0c0"/>
<rect x="691" y="740" width="1" height="10" fill="#c0c0c0"/>
<rect x="695" y="740" width="1" height="9" fill="#c0c0c0"/>
<rect x="699" y="740" width="1" height="9" fill="#c0c0c0"/>
<rect x="703" y="740" width="1" height="9" fill="#c0c0c0"/>
<rect x="707" y="740" width="1" height="9" fill="#c0c0c0"/>
<rect x="711" y="740" width="1" height="9" fill="#c0c0c0"/>
<rect x="715" y="740" width="1" height="10" fill="#c0c0c0"/>
<rect x="719" y="740" width="1" height="10" fill="#c0c0c0"/>
<rect x="723" y="740" width="1" height="12" fill="#c0c0c0"/>
<rect x="727" y="740" width="1" height="14" fill="#c0c0c0"/>
<rect x="731" y="740" width="1" height="17" fill="#c0c0c0"/>
<rect x="735" y="740" width="1" height="19" fill="#c0c0c0"/>
<rect x="739" y="740" width="1" height="21" fill="#c0c0c0"/>
<rect x="743" y="740" width="1" height="23" fill="#c0c0c0"/>
<rect x="747" y="740" width="1" height="25" fill="#c0c0c0"/>
<rect x="751" y="740" width="1" height="26" fill="#c0c0c0"/>
<rect x="755" y="740" width="1" height="27" fill="#c0c0c0"/>
<rect x="759" y="740" width="1" height="28" fill="#c0c0c0"/>
<rect x="763" y="740" width="1" height="28" fill="#c0c0c0"/>
<rect x="767" y="740" width="1" height="29" fill="#c0c0c0"/>
<rect x="771" y="740" width="1" height="29" fill="#c0c0c0"/>
<rect x="775" y="740" width="1" height="27" fill="#c0c0c0"/>
<rect x="779" y="740" width="1" height="26" fill="#c0c0c0"/>
<rect x="783" y="740" width="1" height="25" fill="#c0c0c0"/>
<rect x="787" y="740" width="1" height="24" fill="#c0c0c0"/>
<rect x="791" y="740" width="1" height="22" fill="#c0c0c0"/>
<rect x="795" y="740" width="1" height="20" fill="#c0c0c0"/>
<rect x="799" y="740" width="1" height="18" fill="#c0c0c0"/>
<rect x="803" y="740" width="1" height="17" fill="#c0c0c0"/>
<rect x="807" y="740" width="1" height="16" fill="#c0c0c0"/>
<rect x="811" y="740" width="1" height="15" fill="#c0c0c0"/>
<rect x="815" y="740" width="1" height="14" fill="#c0c0c0"/>
<rect x="819" y="740" width="1" height="16" fill="#c0c0c0"/>
<rect x="823" y="740" width="1" height="17" fill="#c0c0c0"/>
<rect x="827" y="740" width="1" height="18" fill="#c0c0c0"/>
<rect x="831" y="740" width="1" height="18" fill="#c0c0c0"/>
<rect x="835" y="740" width="1" height="19" fill="#c0c0c0"/>
<rect x="839" y="740" width="1" height="19" fill="#c0c0c0"/>
<rect x="843" y="740" width="1" height="19" fill="#c0c0c0"/>
<rect x="847" y="740" width="1" height="20" fill="#c0c0c0"/>
<rect x="851" y="740" width="1" height="20" fill="#c0c0c0"/>
<rect x="855" y="740" width="1" height="21" fill="#c0c0c0"/>
<rect x="859" y="740" width="1" height="22" fill="#c0c0c0"/>
<rect x="863" y="740" width="1" height="22" fill="#c0c0c0"/>
<rect x="867" y="740" width="1" height="23" fill="#c0c0c0"/>
<rect x="871" y="740" width="1" height="23" fill="#c0c0c0"/>
<rect x="875" y="740" width="1" height="24" fill="#c0c0c0"/>
<rect x="879" y="740" width="1" height="25" fill="#c0c0c0"/>
<rect x="883" y="740" width="1" height="26" fill="#c0c0c0"/>
<rect x="887" y="740" width="1" height="27" fill="#c0c0c0"/>
<rect x="891" y="740" width="1" height="28" fill="#c0c0c0"/>
<rect x="895" y="740" width="1" height="29" fill="#c0c0c0"/>
<rect x="899" y="740" width="1" height="30" fill="#c0c0c0"/>
<rect x="903" y="740" width="1" height="30" fill="#c0c0c0"/>
<rect x="907" y="740" width="1" height="31" fill="#c0c0c0"/>
<rect x="911" y="740" width="1" height="33" fill="#c0c0c0"/>
<rect x="915" y="740" width="1" height="34" fill="#c0c0c0"/>
<rect x="919" y="740" width="1" height="36" fill="#c0c0c0"/>
<rect x="923" y="740" width="1" height="38" fill="#c0c0c0"/>
<rect x="927" y="740" width="1" height="39" fill="#c0c0c0"/>
<rect x="931" y="740" width="1" height="41" fill="#c0c0c0"/>
<rect x="935" y="740" width="1" height="40" fill="#c0c0c0"/>
<rect x="939" y="740" width="1" height="39" fill="#c0c0c0"/>
<rect x="943" y="740" width="1" height="39" fill="#c0c0c0"/>
<rect x="947" y="740" width="1" height="39" fill="#c0c0c0"/>
<rect x="951" y="740" width="1" height="39" fill="#c0c0c0"/>
<rect x="955" y="740" width="1" height="37" fill="#c0c0c0"/>
<rect x="959" y="740" width="1" height="35" fill="#c0c0c0"/>
<rect x="963" y="740" width="1" height="35" fill="#c0c0c0"/>
<rect x="967" y="740" width="1" height="35" fill="#c0c0c0"/>
<rect x="971" y="740" width="1" height="36" fill="#c0c0c0"/>
<rect x="975" y="740" width="1" height="38" fill="#c0c0c0"/>
<rect x="979" y="740" width="1" height="40" fill="#c0c0c0"/>
<rect x="983" y="740" width="1" height="42" fill="#c0c0c0"/>
<rect x="987" y="740" width="1" height="42" fill="#c0c0c0"/>
<rect x="991" y="740" width="1" height="40" fill="#c0c0c0"/>
<rect x="995" y="740" width="1" height="38" fill="#c0c0c0"/>
<rect x="999" y="740" width="1" height="34" fill="#c0c0c0"/>
<rect x="1003" y="740" width="1" height="31" fill="#c0c0c0"/>
<rect x="1007" y="740" width="1" height="27" fill="#c0c0c0"/>
<rect x="1011" y="740" width="1" height="23" fill="#c0c0c0"/>
<rect x="1015" y="740" width="1" height="19" fill="#c0c0c0"/>
<rect x="1019" y="740" width="1" height="18" fill="#c0c0c0"/>
<rect x="1023" y="740" width="1" height="17" fill="#c0c0c0"/>
<rect x="1027" y="740" width="1" height="18" fill="#c0c0c0"/>
<rect x="1031" y="740" width="1" height="21" fill="#c0c0c0"/>
<rect x="1035" y="740" width="1" height="24" fill="#c0c0c0"/>
<rect x="1039" y="740" width="1" height="27" fill="#c0c0c0"/>
<rect x="1043" y="740" width="1" height="29" fill="#c0c0c0"/>
<rect x="1047" y="740" width="1" height="31" fill="#c0c0c0"/>
<rect x="1051" y="740" width="1" height="33" fill="#c0c0c0"/>
<rect x="1055" y="740" width="1" height="35" fill="#c0c0c0"/>
<rect x="1059" y="740" width="1" height="37" fill="#c0c0c0"/>
<rect x="1063" y="740" width="1" height="38" fill="#c0c0c0"/>
<rect x="1067" y="740" width="1" height="39" fill="#c0c0c0"/>
<rect x="1071" y="740" width="1" height="39" fill="#c0c0c0"/>
<rect x="1075" y="740" width="1" height="39" fill="#c0c0c0"/>
<rect x="1079" y="740" width="1" height="39" fill="#c0c0c0"/>
<rect x="1083" y="740" width="1" height="39" fill="#c0c0c0"/>
<rect x="1087" y="740" width="1" height="38" fill="#c0c0c0"/>
<rect x="1091" y="740" width="1" height="38" fill="#c0c0c0"/>
<rect x="1095" y="740" width="1" height="39" fill="#c0c0c0"/>
<rect x="1099" y="740" width="1" height="40" fill="#c0c0c0"/>
<rect x="1103" y="740" width="1" height="41" fill="#c0c0c0"/>
<rect x="1107" y="740" width="1" height="41" fill="#c0c0c0"/>
<rect x="1111" y="740" width="1" height="40" fill="#c0c0c0"/>
<rect x="1115" y="740" width="1" height="36" fill="#c0c0c0"/>
<rect x="1119" y="740" width="1" height="33" fill="#c0c0c0"/>
<rect x="1123" y="740" width="1" height="29" fill="#c0c0c0"/>
<rect x="1127" y="740" width="1" height="25" fill="#c0c0c0"/>
<rect x="1131" y="740" width="1" height="22" fill="#c0c0c0"/>
<rect x="1135" y="740" width="1" height="21" fill="#c0c0c0"/>
<rect x="1139" y="740" width="1" height="19" fill="#c0c0c0"/>
<rect x="1143" y="740" width="1" height="21" fill="#c0c0c0"/>
<rect x="1147" y="740" width="1" height="23" fill="#c0c0c0"/>
<rect x="1151" y="740" width="1" height="26" fill="#c0c0c0"/>
<rect x="1155" y="740" width="1" height="28" fill="#c0c0c0"/>
<rect x="1159" y="740" width="1" height="32" fill="#c0c0c0"/>
<rect x="1163" y="740" width="1" height="36" fill="#c0c0c0"/>
<rect x="1167" y="740" width="1" height="38" fill="#c0c0c0"/>
<rect x="1171" y="740" width="1" height="38" fill="#c0c0c0"/>
<rect x="1175" y="740" width="1" height="38" fill="#c0c0c0"/>
<rect x="1179" y="740" width="1" height="38" fill="#c0c0c0"/>
<rect x="1183" y="740" width="1" height="39" fill="#c0c0c0"/>
<rect x="1187" y="740" width="1" height="41" fill="#c0c0c0"/>
<rect x="1191" y="740" width="1" height="42" fill="#c0c0c0"/>
<rect x="1195" y="740" width="1" height="44" fill="#c0c0c0"/>
<rect x="1199" y="740" width="1" height="44" fill="#c0c0c0"/>
<rect x="1203" y="740" width="1" height="44" fill="#c0c0c0"/>
<rect x="1207" y="740" width="1" height="44" fill="#c0c0c0"/>
<rect x="1211" y="740" width="1" height="43" fill="#c0c0c0"/>
<rect x="1215" y="740" width="1" height="41" fill="#c0c0c0"/>
<rect x="1219" y="740" width="1" height="39" fill="#c0c0c0"/>
<rect x="1223" y="740" width="1" height="37" fill="#c0c0c0"/>
<rect x="1227" y="740" width="1" height="36" fill="#c0c0c0"/>
<rect x="1231" y="740" width="1" height="35" fill="#c0c0c0"/>
<rect x="1235" y="740" width="1" height="34" fill="#c0c0c0"/>
<rect x="1239" y="740" width="1" height="32" fill="#c0c0c0"/>
<rect x="1243" y="740" width="1" height="32" fill="#c0c0c0"/>
<rect x="1247" y="740" width="1" height="33" fill="#c0c0c0"/>
<rect x="1251" y="740" width="1" height="33" fill="#c0c0c0"/>
<rect x="1255" y="740" width="1" height="34" fill="#c0c0c0"/>
<rect x="1259" y="740" width="1" height="34" fill="#c0c0c0"/>
<rect x="1263" y="740" width="1" height="34" fill="#c0c0c0"/>
<rect x="1267" y="740" width="1" height="34" fill="#c0c0c0"/>
</g>
<g clip-path="url(#cd)" shape-rendering="crispEdges">
<polyline points="3,741.2 7,741.0 11,740.8 15,740.6 19,740.4 23,741.1 27,742.0 31,742.9 35,743.9 39,744.8 43,746.3 47,748.0 51,749.7 55,751.4 59,751.6 63,751.7 67,751.9 71,752.0 75,752.2 79,752.5 83,752.7 87,753.0 91,753.4 95,754.0 99,754.7 103,755.3 107,756.0 111,756.8 115,758.2 119,759.6 123,761.0 127,762.7 131,764.8 135,766.8 139,768.9 143,770.7 147,772.4 151,774.1 155,775.8 159,775.6 163,775.4 167,775.2 171,775.0 175,772.8 179,770.3 183,766.5 187,762.2 191,757.4 195,752.2 199,747.0 203,742.5 207,737.3 211,733.9 215,731.1 219,728.5 223,725.8 227,724.8 231,724.2 235,724.4 239,724.8 243,725.2 247,725.6 251,726.0 255,726.3 259,726.7 263,727.2 267,726.2 271,725.0 275,724.4 279,723.9 283,723.4 287,723.0 291,722.7 295,722.8 299,723.2 303,724.6 307,728.3 311,731.9 315,735.9 319,739.9 323,743.5 327,746.9 331,749.8 335,750.7 339,750.5 343,749.5 347,747.2 351,744.9 355,741.5 359,737.3 363,731.4 367,725.5 371,720.3 375,715.6 379,711.2 383,707.5 387,703.9 391,701.7 395,699.7 399,699.5 403,699.5 407,700.9 411,702.4 415,704.1 419,705.8 423,707.8 427,710.3 431,713.6 435,716.9 439,720.6 443,724.2 447,727.3 451,730.0 455,732.6 459,734.8 463,735.9 467,736.7 471,737.1 475,736.5 479,735.9 483,735.3 487,734.7 491,734.0 495,733.4 499,732.7 503,732.1 507,731.4 511,730.7 515,730.0 519,729.3 523,728.6 527,728.3 531,728.3 535,728.3 539,728.3 543,728.3 547,728.6 551,729.3 555,730.0 559,730.7 563,730.9 567,730.9 571,730.9 575,730.9 579,729.9 583,728.8 587,727.8 591,726.7 595,725.7 599,724.7 603,723.7 607,723.4 611,723.7 615,724.1 619,724.4 623,726.4 627,729.0 631,731.7 635,734.7 639,737.8 643,740.9 647,744.1 651,747.4 655,750.7 659,754.0 663,754.8 667,754.8 671,754.8 675,754.8 679,754.8 683,754.4 687,753.9 691,753.4 695,752.9 699,752.3 703,751.9 707,751.5 711,751.0 715,750.6 719,750.2 723,750.7 727,751.5 731,752.4 735,753.2 739,755.1 743,757.0 747,759.0 751,760.9 755,762.8 759,764.7 763,766.6 767,767.7 771,768.0 775,768.3 779,768.5 783,767.7 787,766.5 791,765.4 795,764.2 799,763.0 803,761.8 807,760.7 811,759.5 815,758.3 819,757.8 823,757.2 827,756.7 831,756.4 835,756.8 839,757.2 843,757.6 847,758.3 851,759.2 855,760.1 859,761.0 863,761.6 867,762.2 871,762.8 875,763.4 879,764.0 883,764.6 887,765.2 891,765.9 895,766.5 899,767.1 903,768.0 907,768.9 911,769.8 915,770.7 919,771.5 923,772.2 927,773.0 931,774.0 935,775.5 939,777.0 943,778.5 947,779.2 951,778.9 955,778.7 959,778.5 963,778.2 967,777.9 971,777.6 975,777.3 979,777.8 983,778.4 987,778.9 991,779.3 995,779.3 999,779.3 1003,778.2 1007,776.7 1011,775.0 1015,772.5 1019,770.1 1023,767.6 1027,765.9 1031,765.0 1035,764.1 1039,763.2 1043,763.7 1047,764.6 1051,765.5 1055,766.4 1059,768.7 1063,771.0 1067,773.3 1071,775.2 1075,775.8 1079,776.4 1083,777.0 1087,777.4 1091,777.7 1095,778.0 1099,778.3 1103,778.6 1107,778.8 1111,779.1 1115,779.3 1119,778.2 1123,777.0 1127,775.9 1131,774.4 1135,772.1 1139,769.8 1143,767.5 1147,766.2 1151,765.8 1155,765.5 1159,765.1 1163,766.4 1167,768.3 1171,770.2 1175,772.1 1179,773.6 1183,775.2 1187,776.7 1191,778.1 1195,778.8 1199,779.6 1203,780.3 1207,780.9 1211,781.3 1215,781.7 1219,782.1 1223,781.4 1227,780.4 1231,779.4 1235,778.4 1239,776.7 1243,775.0 1247,773.4 1251,772.1 1255,772.1 1259,772.1 1263,772.1 1267,772.1" fill="none" stroke="#ff0000" stroke-width="1" stroke-dasharray="3,3"/>
</g>
<text x="7" y="702" font-family='"Liberation Sans", sans-serif' font-size="10.4" fill="#000" stroke="#000" stroke-width="0.15" textLength="154.0" lengthAdjust="spacingAndGlyphs">MACD(12,26,9) -0.029164 -0.026846</text>
<rect x="1596" y="740" width="1" height="1" fill="#000"/>
<text x="1599" y="700" font-family='"Liberation Sans", sans-serif' font-size="9.6" fill="#000" stroke="#000" stroke-width="0.25" textLength="38.0" lengthAdjust="spacingAndGlyphs">0.042275</text>
<text x="1599" y="743.8" font-family='"Liberation Sans", sans-serif' font-size="9.6" fill="#000" stroke="#000" stroke-width="0.25" textLength="17.7" lengthAdjust="spacingAndGlyphs">0.00</text>
<text x="1599" y="787.4" font-family='"Liberation Sans", sans-serif' font-size="9.6" fill="#000" stroke="#000" stroke-width="0.25" textLength="35.9" lengthAdjust="spacingAndGlyphs">-0.04148</text>
<rect x="3" y="790" width="1" height="4" fill="#000"/>
<text x="2" y="802.6" font-family='"Liberation Sans", sans-serif' font-size="9.6" fill="#000" stroke="#000" stroke-width="0.25" textLength="48.3" lengthAdjust="spacingAndGlyphs">6 Dec 2019</text>
<rect x="67" y="790" width="1" height="4" fill="#000"/>
<text x="66" y="802.6" font-family='"Liberation Sans", sans-serif' font-size="9.6" fill="#000" stroke="#000" stroke-width="0.25" textLength="53.6" lengthAdjust="spacingAndGlyphs">25 Dec 2019</text>
<rect x="131" y="790" width="1" height="4" fill="#000"/>
<text x="130" y="802.6" font-family='"Liberation Sans", sans-serif' font-size="9.6" fill="#000" stroke="#000" stroke-width="0.25" textLength="52.0" lengthAdjust="spacingAndGlyphs">13 Jan 2020</text>
<rect x="195" y="790" width="1" height="4" fill="#000"/>
<text x="194" y="802.6" font-family='"Liberation Sans", sans-serif' font-size="9.6" fill="#000" stroke="#000" stroke-width="0.25" textLength="52.0" lengthAdjust="spacingAndGlyphs">31 Jan 2020</text>
<rect x="259" y="790" width="1" height="4" fill="#000"/>
<text x="258" y="802.6" font-family='"Liberation Sans", sans-serif' font-size="9.6" fill="#000" stroke="#000" stroke-width="0.25" textLength="53.1" lengthAdjust="spacingAndGlyphs">19 Feb 2020</text>
<rect x="323" y="790" width="1" height="4" fill="#000"/>
<text x="322" y="802.6" font-family='"Liberation Sans", sans-serif' font-size="9.6" fill="#000" stroke="#000" stroke-width="0.25" textLength="47.8" lengthAdjust="spacingAndGlyphs">9 Mar 2020</text>
<rect x="387" y="790" width="1" height="4" fill="#000"/>
<text x="386" y="802.6" font-family='"Liberation Sans", sans-serif' font-size="9.6" fill="#000" stroke="#000" stroke-width="0.25" textLength="53.1" lengthAdjust="spacingAndGlyphs">27 Mar 2020</text>
<rect x="451" y="790" width="1" height="4" fill="#000"/>
<text x="450" y="802.6" font-family='"Liberation Sans", sans-serif' font-size="9.6" fill="#000" stroke="#000" stroke-width="0.25" textLength="51.0" lengthAdjust="spacingAndGlyphs">15 Apr 2020</text>
<rect x="515" y="790" width="1" height="4" fill="#000"/>
<text x="514" y="802.6" font-family='"Liberation Sans", sans-serif' font-size="9.6" fill="#000" stroke="#000" stroke-width="0.25" textLength="49.4" lengthAdjust="spacingAndGlyphs">4 May 2020</text>
<rect x="579" y="790" width="1" height="4" fill="#000"/>
<text x="578" y="802.6" font-family='"Liberation Sans", sans-serif' font-size="9.6" fill="#000" stroke="#000" stroke-width="0.25" textLength="54.6" lengthAdjust="spacingAndGlyphs">22 May 2020</text>
<rect x="643" y="790" width="1" height="4" fill="#000"/>
<text x="642" y="802.6" font-family='"Liberation Sans", sans-serif' font-size="9.6" fill="#000" stroke="#000" stroke-width="0.25" textLength="52.0" lengthAdjust="spacingAndGlyphs">10 Jun 2020</text>
<rect x="707" y="790" width="1" height="4" fill="#000"/>
<text x="706" y="802.6" font-family='"Liberation Sans", sans-serif' font-size="9.6" fill="#000" stroke="#000" stroke-width="0.25" textLength="52.0" lengthAdjust="spacingAndGlyphs">29 Jun 2020</text>
<rect x="771" y="790" width="1" height="4" fill="#000"/>
<text x="770" y="802.6" font-family='"Liberation Sans", sans-serif' font-size="9.6" fill="#000" stroke="#000" stroke-width="0.25" textLength="48.9" lengthAdjust="spacingAndGlyphs">17 Jul 2020</text>
<rect x="835" y="790" width="1" height="4" fill="#000"/>
<text x="834" y="802.6" font-family='"Liberation Sans", sans-serif' font-size="9.6" fill="#000" stroke="#000" stroke-width="0.25" textLength="47.8" lengthAdjust="spacingAndGlyphs">5 Aug 2020</text>
<rect x="899" y="790" width="1" height="4" fill="#000"/>
<text x="898" y="802.6" font-family='"Liberation Sans", sans-serif' font-size="9.6" fill="#000" stroke="#000" stroke-width="0.25" textLength="53.1" lengthAdjust="spacingAndGlyphs">24 Aug 2020</text>
<rect x="963" y="790" width="1" height="4" fill="#000"/>
<text x="962" y="802.6" font-family='"Liberation Sans", sans-serif' font-size="9.6" fill="#000" stroke="#000" stroke-width="0.25" textLength="52.9" lengthAdjust="spacingAndGlyphs">11 Sep 2020</text>
<rect x="1027" y="790" width="1" height="4" fill="#000"/>
<text x="1026" y="802.6" font-family='"Liberation Sans", sans-serif' font-size="9.6" fill="#000" stroke="#000" stroke-width="0.25" textLength="53.6" lengthAdjust="spacingAndGlyphs">30 Sep 2020</text>
<rect x="1091" y="790" width="1" height="4" fill="#000"/>
<text x="1090" y="802.6" font-family='"Liberation Sans", sans-serif' font-size="9.6" fill="#000" stroke="#000" stroke-width="0.25" textLength="51.5" lengthAdjust="spacingAndGlyphs">19 Oct 2020</text>
<rect x="1155" y="790" width="1" height="4" fill="#000"/>
<text x="1154" y="802.6" font-family='"Liberation Sans", sans-serif' font-size="9.6" fill="#000" stroke="#000" stroke-width="0.25" textLength="48.3" lengthAdjust="spacingAndGlyphs">6 Nov 2020</text>
<rect x="1219" y="790" width="1" height="4" fill="#000"/>
<text x="1218" y="802.6" font-family='"Liberation Sans", sans-serif' font-size="9.6" fill="#000" stroke="#000" stroke-width="0.25" textLength="53.6" lengthAdjust="spacingAndGlyphs">25 Nov 2020</text>
<rect x="0" y="811" width="1637" height="1" fill="#dcdcdc"/>
<rect x="0" y="813" width="1637" height="1" fill="#000"/>
<rect x="0" y="814" width="1637" height="19" fill="#f0f0f0"/>
<rect x="0" y="834" width="1637" height="3" fill="#f0f0f0"/>
<rect x="0" y="837" width="1637" height="1" fill="#b0b0b0"/>
<rect x="416.5" y="813.5" width="103" height="18" fill="#fff" stroke="#000" stroke-width="1"/>
<text x="16.6" y="828" font-family='"Liberation Sans", sans-serif' font-size="12" fill="#6d6d6d">EURUSD,Daily</text>
<text x="118.6" y="828" font-family='"Liberation Sans", sans-serif' font-size="12" fill="#6d6d6d">USDCHF,Daily</text>
<text x="219.6" y="828" font-family='"Liberation Sans", sans-serif' font-size="12" fill="#6d6d6d">AUDUSD,Daily</text>
<text x="323.6" y="828" font-family='"Liberation Sans", sans-serif' font-size="12" fill="#6d6d6d">USDCAD,Daily</text>
<text x="427.2" y="828" font-family='"Liberation Sans", sans-serif' font-size="12" fill="#000">USDCNH,Daily</text>
<text x="533.5" y="828" font-family='"Liberation Sans", sans-serif' font-size="12" fill="#6d6d6d">EURUSD,Daily</text>
<text x="636.8" y="828" font-family='"Liberation Sans", sans-serif' font-size="12" fill="#6d6d6d">GBPUSD,H4</text>
<text x="727.5" y="828" font-family='"Liberation Sans", sans-serif' font-size="12" fill="#6d6d6d">XAUUSD,Daily</text>
<text x="831.8" y="828" font-family='"Liberation Sans", sans-serif' font-size="12" fill="#6d6d6d">HK50,H1</text>
<text x="903.8" y="828" font-family='"Liberation Sans", sans-serif' font-size="12" fill="#6d6d6d">UK100,H1</text>
<text x="983.8" y="828" font-family='"Liberation Sans", sans-serif' font-size="12" fill="#6d6d6d">UK100,H1</text>
<text x="1063.8" y="828" font-family='"Liberation Sans", sans-serif' font-size="12" fill="#6d6d6d">GER30,H1</text>
<text x="1142.8" y="828" font-family='"Liberation Sans", sans-serif' font-size="12" fill="#6d6d6d">FRA40,H1</text>
<text x="1218.6" y="828" font-family='"Liberation Sans", sans-serif' font-size="12" fill="#6d6d6d">USOil,Daily</text>
<text x="1302.6" y="828" font-family='"Liberation Sans", sans-serif' font-size="12" fill="#6d6d6d">USDJPY,H1</text>
<text x="1386.8" y="828" font-family='"Liberation Sans", sans-serif' font-size="12" fill="#6d6d6d">DJ30,Daily</text>
<text x="1466.8" y="828" font-family='"Liberation Sans", sans-serif' font-size="12" fill="#6d6d6d">CHINA300,H1</text>
<text x="1566.8" y="828" font-family='"Liberation Sans", sans-serif' font-size="12" fill="#6d6d6d">USOil,H1</text>
<rect x="108" y="818" width="1" height="12" fill="#6d6d6d"/>
<rect x="209" y="818" width="1" height="12" fill="#6d6d6d"/>
<rect x="312" y="818" width="1" height="12" fill="#6d6d6d"/>
<rect x="624" y="818" width="1" height="12" fill="#6d6d6d"/>
<rect x="716" y="818" width="1" height="12" fill="#6d6d6d"/>
<rect x="820" y="818" width="1" height="12" fill="#6d6d6d"/>
<rect x="892" y="818" width="1" height="12" fill="#6d6d6d"/>
<rect x="972" y="818" width="1" height="12" fill="#6d6d6d"/>
<rect x="1053" y="818" width="1" height="12" fill="#6d6d6d"/>
<rect x="1133" y="818" width="1" height="12" fill="#6d6d6d"/>
<rect x="1209" y="818" width="1" height="12" fill="#6d6d6d"/>
<rect x="1292" y="818" width="1" height="12" fill="#6d6d6d"/>
<rect x="1377" y="818" width="1" height="12" fill="#6d6d6d"/>
<rect x="1457" y="818" width="1" height="12" fill="#6d6d6d"/>
<rect x="1556" y="818" width="1" height="12" fill="#6d6d6d"/>
<rect x="1606" y="814" width="31" height="20" fill="#f0f0f0"/>
<path d="M1614,819 L1614,825 L1610.5,822 Z" fill="#999" shape-rendering="auto"/>
<path d="M1630,819 L1630,825 L1633.5,822 Z" fill="#000" shape-rendering="auto"/>
</svg></body></html>
